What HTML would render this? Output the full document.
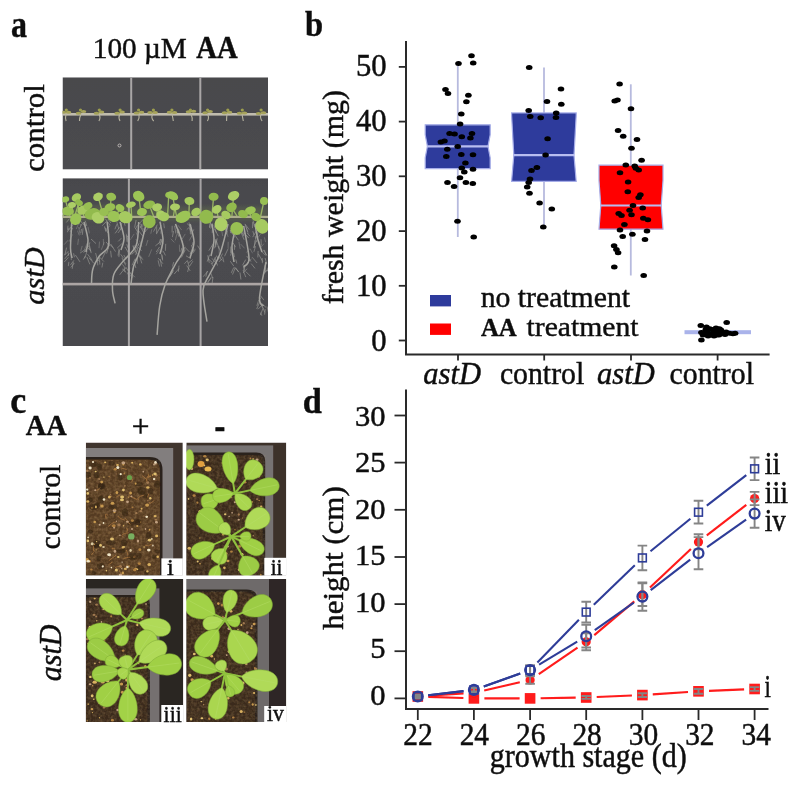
<!DOCTYPE html>
<html><head><meta charset="utf-8"><title>figure</title>
<style>html,body{margin:0;padding:0;background:#fff;width:800px;height:785px;overflow:hidden}svg{display:block}</style>
</head><body>
<svg width="800" height="785" viewBox="0 0 800 785" font-family="'Liberation Serif', serif" fill="#111">
<defs><filter id="soft" filterUnits="userSpaceOnUse" x="0" y="0" width="800" height="785"><feGaussianBlur stdDeviation="0.35"/></filter></defs>
<style>text{stroke:#111;stroke-width:0.45px;}</style>
<rect width="800" height="785" fill="#fff"/>
<g filter="url(#soft)">
<defs><filter id="bl1" x="-10%" y="-10%" width="120%" height="120%"><feGaussianBlur stdDeviation="0.6"/></filter><filter id="bl2" x="-10%" y="-10%" width="120%" height="120%"><feGaussianBlur stdDeviation="0.7"/></filter><filter id="bl4" x="-20%" y="-50%" width="140%" height="200%"><feGaussianBlur stdDeviation="2.5"/></filter><linearGradient id="gpa2" x1="0" y1="0" x2="0" y2="1"><stop offset="0" stop-color="#47474c"/><stop offset="0.3" stop-color="#4d4d51"/><stop offset="0.5" stop-color="#4b4b4f"/><stop offset="1" stop-color="#49494d"/></linearGradient><linearGradient id="gpa1" x1="0" y1="0" x2="0" y2="1"><stop offset="0" stop-color="#48484c"/><stop offset="1" stop-color="#4c4c4f"/></linearGradient><clipPath id="cpa1"><rect x="62.5" y="77.3" width="205.5" height="92.3"/></clipPath><clipPath id="cpa2"><rect x="62.5" y="178.2" width="205.5" height="167.8"/></clipPath></defs>
<g clip-path="url(#cpa1)">
<rect x="62.5" y="77.3" width="205.5" height="92.3" fill="url(#gpa1)"/>
<g filter="url(#bl1)">
<rect x="130.2" y="77.3" width="2" height="92.3" fill="#a9a6a6"/>
<rect x="199.3" y="77.3" width="2" height="92.3" fill="#a9a6a6"/>
<rect x="62.5" y="113" width="205.5" height="2.6" fill="#c0bcae"/>
<path d="M66 114 q-1.0 4 0.1 7" stroke="#b8b4a0" stroke-width="1.1" fill="none"/>
<ellipse cx="63.5" cy="112.2" rx="2.8" ry="1.5" fill="#a4a25a"/>
<ellipse cx="68.5" cy="112.2" rx="2.8" ry="1.5" fill="#a8a45c"/>
<ellipse cx="66.3" cy="110" rx="1.6" ry="1.6" fill="#9c9e4e"/>
<path d="M81 114 q-1.7 4 -1.5 7" stroke="#b8b4a0" stroke-width="1.1" fill="none"/>
<ellipse cx="78.5" cy="113.2" rx="2.8" ry="1.5" fill="#a4a25a"/>
<ellipse cx="83.5" cy="111.5" rx="2.8" ry="1.5" fill="#a8a45c"/>
<ellipse cx="80.5" cy="110" rx="1.6" ry="1.6" fill="#9c9e4e"/>
<path d="M99 114 q2.0 4 -0.1 7" stroke="#b8b4a0" stroke-width="1.1" fill="none"/>
<ellipse cx="96.5" cy="113.2" rx="2.8" ry="1.5" fill="#a4a25a"/>
<ellipse cx="101.5" cy="112.0" rx="2.8" ry="1.5" fill="#a8a45c"/>
<ellipse cx="99.3" cy="110" rx="1.6" ry="1.6" fill="#9c9e4e"/>
<path d="M119.6 114 q-1.4 4 0.4 7" stroke="#b8b4a0" stroke-width="1.1" fill="none"/>
<ellipse cx="117.1" cy="113.2" rx="2.8" ry="1.5" fill="#a4a25a"/>
<ellipse cx="122.1" cy="112.0" rx="2.8" ry="1.5" fill="#a8a45c"/>
<ellipse cx="120.1" cy="110" rx="1.6" ry="1.6" fill="#9c9e4e"/>
<path d="M139 114 q0.7 4 -1.3 7" stroke="#b8b4a0" stroke-width="1.1" fill="none"/>
<ellipse cx="136.5" cy="113.0" rx="2.8" ry="1.5" fill="#a4a25a"/>
<ellipse cx="141.5" cy="112.2" rx="2.8" ry="1.5" fill="#a8a45c"/>
<ellipse cx="138.6" cy="110" rx="1.6" ry="1.6" fill="#9c9e4e"/>
<path d="M152.6 114 q-1.9 4 1.1 7" stroke="#b8b4a0" stroke-width="1.1" fill="none"/>
<ellipse cx="150.1" cy="112.4" rx="2.8" ry="1.5" fill="#a4a25a"/>
<ellipse cx="155.1" cy="112.4" rx="2.8" ry="1.5" fill="#a8a45c"/>
<ellipse cx="153.4" cy="110" rx="1.6" ry="1.6" fill="#9c9e4e"/>
<path d="M172 114 q0.9 4 1.3 7" stroke="#b8b4a0" stroke-width="1.1" fill="none"/>
<ellipse cx="169.5" cy="112.3" rx="2.8" ry="1.5" fill="#a4a25a"/>
<ellipse cx="174.5" cy="112.6" rx="2.8" ry="1.5" fill="#a8a45c"/>
<ellipse cx="171.9" cy="110" rx="1.6" ry="1.6" fill="#9c9e4e"/>
<path d="M191 114 q1.7 4 1.1 7" stroke="#b8b4a0" stroke-width="1.1" fill="none"/>
<ellipse cx="188.5" cy="111.7" rx="2.8" ry="1.5" fill="#a4a25a"/>
<ellipse cx="193.5" cy="111.3" rx="2.8" ry="1.5" fill="#a8a45c"/>
<ellipse cx="190.4" cy="110" rx="1.6" ry="1.6" fill="#9c9e4e"/>
<path d="M207.6 114 q1.9 4 -0.2 7" stroke="#b8b4a0" stroke-width="1.1" fill="none"/>
<ellipse cx="205.1" cy="112.8" rx="2.8" ry="1.5" fill="#a4a25a"/>
<ellipse cx="210.1" cy="111.6" rx="2.8" ry="1.5" fill="#a8a45c"/>
<ellipse cx="207.6" cy="110" rx="1.6" ry="1.6" fill="#9c9e4e"/>
<path d="M227 114 q-0.5 4 -0.4 7" stroke="#b8b4a0" stroke-width="1.1" fill="none"/>
<ellipse cx="224.5" cy="112.7" rx="2.8" ry="1.5" fill="#a4a25a"/>
<ellipse cx="229.5" cy="112.2" rx="2.8" ry="1.5" fill="#a8a45c"/>
<ellipse cx="227.8" cy="110" rx="1.6" ry="1.6" fill="#9c9e4e"/>
<path d="M242 114 q0.7 4 1.3 7" stroke="#b8b4a0" stroke-width="1.1" fill="none"/>
<ellipse cx="239.5" cy="113.2" rx="2.8" ry="1.5" fill="#a4a25a"/>
<ellipse cx="244.5" cy="113.0" rx="2.8" ry="1.5" fill="#a8a45c"/>
<ellipse cx="242.3" cy="110" rx="1.6" ry="1.6" fill="#9c9e4e"/>
<path d="M261 114 q-1.3 4 1.1 7" stroke="#b8b4a0" stroke-width="1.1" fill="none"/>
<ellipse cx="258.5" cy="113.4" rx="2.8" ry="1.5" fill="#a4a25a"/>
<ellipse cx="263.5" cy="112.8" rx="2.8" ry="1.5" fill="#a8a45c"/>
<ellipse cx="261.1" cy="110" rx="1.6" ry="1.6" fill="#9c9e4e"/>
<circle cx="119.5" cy="145.5" r="1.5" fill="none" stroke="#cfcac6" stroke-width="0.8"/>
</g></g>
<g clip-path="url(#cpa2)">
<rect x="62.5" y="178.2" width="205.5" height="167.8" fill="url(#gpa2)"/>
<g filter="url(#bl1)">
<rect x="127.9" y="178.2" width="2" height="167.8" fill="#a6a3a4"/>
<rect x="199.6" y="178.2" width="2" height="167.8" fill="#a6a3a4"/>
<rect x="62.5" y="282.8" width="205.5" height="2.6" fill="#aca5a4"/>
<path d="M107.2 222 C107.4 225.9 109.9 239.9 108.6 245.6 C107.3 251.3 102.0 252.1 99.4 256 C96.8 259.9 94.1 264.7 92.8 269.2 C91.5 273.7 91.7 280.7 91.5 283" stroke="#aaa9a3" stroke-width="1.5" fill="none" opacity="0.95"/>
<path d="M104.5 226.3 l1.3 5.4" stroke="#a4a39e" stroke-width="0.8" fill="none" opacity="0.7"/>
<path d="M104.9 227.5 l3.1 5.6" stroke="#a4a39e" stroke-width="0.8" fill="none" opacity="0.7"/>
<path d="M107.2 220.8 l-5.0 4.9" stroke="#a4a39e" stroke-width="0.8" fill="none" opacity="0.7"/>
<path d="M107.9 218.8 l2.9 4.2" stroke="#a4a39e" stroke-width="0.8" fill="none" opacity="0.7"/>
<path d="M105.1 218.5 l5.0 6.7" stroke="#a4a39e" stroke-width="0.8" fill="none" opacity="0.7"/>
<path d="M110.2 225.4 l-4.7 4.6" stroke="#a4a39e" stroke-width="0.8" fill="none" opacity="0.7"/>
<path d="M108.6 243.0 l4.5 4.8" stroke="#a4a39e" stroke-width="0.8" fill="none" opacity="0.7"/>
<path d="M105.8 251.4 l-3.8 7.6" stroke="#a4a39e" stroke-width="0.8" fill="none" opacity="0.7"/>
<path d="M108.2 248.2 l-1.6 5.4" stroke="#a4a39e" stroke-width="0.8" fill="none" opacity="0.7"/>
<path d="M106.1 242.0 l3.7 4.2" stroke="#a4a39e" stroke-width="0.8" fill="none" opacity="0.7"/>
<path d="M110.8 244.1 l4.7 7.5" stroke="#a4a39e" stroke-width="0.8" fill="none" opacity="0.7"/>
<path d="M110.6 250.8 l0.8 6.6" stroke="#a4a39e" stroke-width="0.8" fill="none" opacity="0.7"/>
<path d="M96.4 257.7 l3.3 4.0" stroke="#a4a39e" stroke-width="0.8" fill="none" opacity="0.7"/>
<path d="M102.8 262.7 l-0.9 4.8" stroke="#a4a39e" stroke-width="0.8" fill="none" opacity="0.7"/>
<path d="M99.0 256.6 l4.9 4.9" stroke="#a4a39e" stroke-width="0.8" fill="none" opacity="0.7"/>
<path d="M95.6 253.1 l2.2 8.0" stroke="#a4a39e" stroke-width="0.8" fill="none" opacity="0.7"/>
<path d="M99.4 257.9 l0.5 6.7" stroke="#a4a39e" stroke-width="0.8" fill="none" opacity="0.7"/>
<path d="M97.2 259.3 l0.6 6.1" stroke="#a4a39e" stroke-width="0.8" fill="none" opacity="0.7"/>
<path d="M138.7 222 C138.3 225.9 138.7 239.0 136.1 245.6 C133.5 252.2 126.7 256.6 123 261.4 C119.3 266.2 115.5 269.7 113.8 274.5 C112.0 279.3 112.3 285.4 112.5 290.2 C112.7 295.0 114.7 301.2 115.1 303.4" stroke="#aaa9a3" stroke-width="1.5" fill="none" opacity="0.95"/>
<path d="M136.1 220.0 l-1.5 7.6" stroke="#a4a39e" stroke-width="0.8" fill="none" opacity="0.7"/>
<path d="M137.5 225.2 l-1.9 3.5" stroke="#a4a39e" stroke-width="0.8" fill="none" opacity="0.7"/>
<path d="M135.2 227.8 l2.8 4.9" stroke="#a4a39e" stroke-width="0.8" fill="none" opacity="0.7"/>
<path d="M140.2 226.1 l4.0 7.8" stroke="#a4a39e" stroke-width="0.8" fill="none" opacity="0.7"/>
<path d="M138.0 229.9 l4.6 6.0" stroke="#a4a39e" stroke-width="0.8" fill="none" opacity="0.7"/>
<path d="M141.8 223.9 l-1.2 4.2" stroke="#a4a39e" stroke-width="0.8" fill="none" opacity="0.7"/>
<path d="M139.1 243.5 l-4.3 7.0" stroke="#a4a39e" stroke-width="0.8" fill="none" opacity="0.7"/>
<path d="M138.3 247.4 l3.4 3.3" stroke="#a4a39e" stroke-width="0.8" fill="none" opacity="0.7"/>
<path d="M134.2 245.1 l-0.8 3.9" stroke="#a4a39e" stroke-width="0.8" fill="none" opacity="0.7"/>
<path d="M132.7 245.7 l4.0 7.9" stroke="#a4a39e" stroke-width="0.8" fill="none" opacity="0.7"/>
<path d="M138.1 247.3 l-2.5 7.8" stroke="#a4a39e" stroke-width="0.8" fill="none" opacity="0.7"/>
<path d="M136.3 250.3 l-4.7 4.1" stroke="#a4a39e" stroke-width="0.8" fill="none" opacity="0.7"/>
<path d="M125.7 266.9 l3.8 6.0" stroke="#a4a39e" stroke-width="0.8" fill="none" opacity="0.7"/>
<path d="M122.4 264.4 l3.5 4.5" stroke="#a4a39e" stroke-width="0.8" fill="none" opacity="0.7"/>
<path d="M123.3 260.7 l2.7 3.1" stroke="#a4a39e" stroke-width="0.8" fill="none" opacity="0.7"/>
<path d="M124.5 268.8 l-4.8 6.0" stroke="#a4a39e" stroke-width="0.8" fill="none" opacity="0.7"/>
<path d="M124.2 267.6 l0.8 4.3" stroke="#a4a39e" stroke-width="0.8" fill="none" opacity="0.7"/>
<path d="M122.2 268.9 l4.1 3.7" stroke="#a4a39e" stroke-width="0.8" fill="none" opacity="0.7"/>
<path d="M146.6 222 C145.3 227.2 140.9 246.1 138.7 253.5 C136.5 260.9 134.8 261.4 133.5 266.6 C132.2 271.9 131.3 281.9 130.9 285" stroke="#aaa9a3" stroke-width="1.5" fill="none" opacity="0.95"/>
<path d="M143.4 219.1 l-4.7 5.2" stroke="#a4a39e" stroke-width="0.8" fill="none" opacity="0.7"/>
<path d="M143.7 228.4 l1.6 3.6" stroke="#a4a39e" stroke-width="0.8" fill="none" opacity="0.7"/>
<path d="M146.9 221.9 l-0.1 4.1" stroke="#a4a39e" stroke-width="0.8" fill="none" opacity="0.7"/>
<path d="M143.9 220.2 l-1.2 6.5" stroke="#a4a39e" stroke-width="0.8" fill="none" opacity="0.7"/>
<path d="M147.0 218.6 l2.1 7.4" stroke="#a4a39e" stroke-width="0.8" fill="none" opacity="0.7"/>
<path d="M148.8 227.5 l-4.9 5.3" stroke="#a4a39e" stroke-width="0.8" fill="none" opacity="0.7"/>
<path d="M135.2 258.7 l-3.2 6.6" stroke="#a4a39e" stroke-width="0.8" fill="none" opacity="0.7"/>
<path d="M136.7 257.9 l-1.9 3.2" stroke="#a4a39e" stroke-width="0.8" fill="none" opacity="0.7"/>
<path d="M137.8 253.2 l4.0 4.5" stroke="#a4a39e" stroke-width="0.8" fill="none" opacity="0.7"/>
<path d="M138.7 256.1 l4.5 3.5" stroke="#a4a39e" stroke-width="0.8" fill="none" opacity="0.7"/>
<path d="M139.5 255.6 l2.3 7.8" stroke="#a4a39e" stroke-width="0.8" fill="none" opacity="0.7"/>
<path d="M137.2 257.9 l0.3 5.8" stroke="#a4a39e" stroke-width="0.8" fill="none" opacity="0.7"/>
<path d="M130.0 272.4 l4.8 4.8" stroke="#a4a39e" stroke-width="0.8" fill="none" opacity="0.7"/>
<path d="M132.0 274.5 l-3.9 3.4" stroke="#a4a39e" stroke-width="0.8" fill="none" opacity="0.7"/>
<path d="M130.1 272.4 l2.6 5.2" stroke="#a4a39e" stroke-width="0.8" fill="none" opacity="0.7"/>
<path d="M134.5 262.8 l1.4 5.2" stroke="#a4a39e" stroke-width="0.8" fill="none" opacity="0.7"/>
<path d="M133.6 267.3 l-1.0 4.1" stroke="#a4a39e" stroke-width="0.8" fill="none" opacity="0.7"/>
<path d="M129.9 267.8 l-2.5 6.5" stroke="#a4a39e" stroke-width="0.8" fill="none" opacity="0.7"/>
<path d="M175.5 224 C176.8 228.0 183.4 241.5 183.4 248.2 C183.4 254.9 178.6 257.9 175.5 264 C172.4 270.1 167.6 278.0 165 285 C162.4 292.0 161.0 297.7 159.7 306 C158.4 314.3 157.5 330.1 157.1 334.9" stroke="#aaa9a3" stroke-width="1.5" fill="none" opacity="0.95"/>
<path d="M178.0 228.7 l-0.4 4.2" stroke="#a4a39e" stroke-width="0.8" fill="none" opacity="0.7"/>
<path d="M174.6 225.8 l1.3 7.8" stroke="#a4a39e" stroke-width="0.8" fill="none" opacity="0.7"/>
<path d="M172.2 225.8 l-0.1 6.6" stroke="#a4a39e" stroke-width="0.8" fill="none" opacity="0.7"/>
<path d="M178.6 229.4 l1.3 6.8" stroke="#a4a39e" stroke-width="0.8" fill="none" opacity="0.7"/>
<path d="M176.8 230.3 l2.0 6.4" stroke="#a4a39e" stroke-width="0.8" fill="none" opacity="0.7"/>
<path d="M173.5 231.0 l-1.1 6.1" stroke="#a4a39e" stroke-width="0.8" fill="none" opacity="0.7"/>
<path d="M186.0 255.8 l4.9 3.0" stroke="#a4a39e" stroke-width="0.8" fill="none" opacity="0.7"/>
<path d="M181.9 247.9 l-1.1 3.7" stroke="#a4a39e" stroke-width="0.8" fill="none" opacity="0.7"/>
<path d="M183.8 245.2 l-2.0 7.7" stroke="#a4a39e" stroke-width="0.8" fill="none" opacity="0.7"/>
<path d="M185.3 249.7 l-3.9 7.8" stroke="#a4a39e" stroke-width="0.8" fill="none" opacity="0.7"/>
<path d="M185.0 246.7 l-1.6 6.2" stroke="#a4a39e" stroke-width="0.8" fill="none" opacity="0.7"/>
<path d="M184.9 247.3 l4.5 4.6" stroke="#a4a39e" stroke-width="0.8" fill="none" opacity="0.7"/>
<path d="M173.5 270.1 l-3.5 6.4" stroke="#a4a39e" stroke-width="0.8" fill="none" opacity="0.7"/>
<path d="M173.1 267.2 l-2.2 4.9" stroke="#a4a39e" stroke-width="0.8" fill="none" opacity="0.7"/>
<path d="M179.0 265.6 l-0.6 6.1" stroke="#a4a39e" stroke-width="0.8" fill="none" opacity="0.7"/>
<path d="M173.7 262.1 l-1.2 4.4" stroke="#a4a39e" stroke-width="0.8" fill="none" opacity="0.7"/>
<path d="M173.0 271.5 l-4.7 7.1" stroke="#a4a39e" stroke-width="0.8" fill="none" opacity="0.7"/>
<path d="M179.0 268.5 l-4.8 5.5" stroke="#a4a39e" stroke-width="0.8" fill="none" opacity="0.7"/>
<path d="M228 224 C226.7 228.9 223.2 245.1 220.1 253.5 C217.0 261.9 212.4 268.4 209.6 274.5 C206.8 280.6 203.4 282.3 203 290.2 C202.6 298.1 206.3 316.4 207 321.7" stroke="#aaa9a3" stroke-width="1.5" fill="none" opacity="0.95"/>
<path d="M224.3 227.3 l2.0 4.2" stroke="#a4a39e" stroke-width="0.8" fill="none" opacity="0.7"/>
<path d="M224.1 226.5 l-4.1 4.5" stroke="#a4a39e" stroke-width="0.8" fill="none" opacity="0.7"/>
<path d="M227.6 230.7 l-1.3 3.7" stroke="#a4a39e" stroke-width="0.8" fill="none" opacity="0.7"/>
<path d="M230.3 229.9 l0.3 3.2" stroke="#a4a39e" stroke-width="0.8" fill="none" opacity="0.7"/>
<path d="M225.5 224.8 l0.5 4.1" stroke="#a4a39e" stroke-width="0.8" fill="none" opacity="0.7"/>
<path d="M230.4 230.1 l4.3 7.4" stroke="#a4a39e" stroke-width="0.8" fill="none" opacity="0.7"/>
<path d="M216.2 256.5 l-4.2 7.5" stroke="#a4a39e" stroke-width="0.8" fill="none" opacity="0.7"/>
<path d="M222.1 258.6 l-3.1 3.3" stroke="#a4a39e" stroke-width="0.8" fill="none" opacity="0.7"/>
<path d="M222.6 256.8 l1.2 5.4" stroke="#a4a39e" stroke-width="0.8" fill="none" opacity="0.7"/>
<path d="M222.5 253.6 l-2.3 4.8" stroke="#a4a39e" stroke-width="0.8" fill="none" opacity="0.7"/>
<path d="M218.5 257.0 l3.9 3.4" stroke="#a4a39e" stroke-width="0.8" fill="none" opacity="0.7"/>
<path d="M216.6 255.6 l1.8 3.9" stroke="#a4a39e" stroke-width="0.8" fill="none" opacity="0.7"/>
<path d="M207.8 271.2 l-4.6 5.5" stroke="#a4a39e" stroke-width="0.8" fill="none" opacity="0.7"/>
<path d="M211.0 278.3 l-3.4 3.5" stroke="#a4a39e" stroke-width="0.8" fill="none" opacity="0.7"/>
<path d="M213.0 277.0 l-0.9 6.5" stroke="#a4a39e" stroke-width="0.8" fill="none" opacity="0.7"/>
<path d="M211.4 276.8 l-4.2 7.1" stroke="#a4a39e" stroke-width="0.8" fill="none" opacity="0.7"/>
<path d="M207.3 271.0 l-1.5 5.7" stroke="#a4a39e" stroke-width="0.8" fill="none" opacity="0.7"/>
<path d="M210.6 272.6 l2.1 5.5" stroke="#a4a39e" stroke-width="0.8" fill="none" opacity="0.7"/>
<path d="M243.7 226 C244.6 231.4 249.0 251.9 249 258.7 C249.0 265.5 244.6 265.3 243.7 266.6" stroke="#aaa9a3" stroke-width="1.5" fill="none" opacity="0.95"/>
<path d="M241.0 232.2 l3.1 7.5" stroke="#a4a39e" stroke-width="0.8" fill="none" opacity="0.7"/>
<path d="M245.1 224.6 l2.8 7.5" stroke="#a4a39e" stroke-width="0.8" fill="none" opacity="0.7"/>
<path d="M244.0 232.9 l4.7 5.0" stroke="#a4a39e" stroke-width="0.8" fill="none" opacity="0.7"/>
<path d="M247.2 233.2 l2.9 3.1" stroke="#a4a39e" stroke-width="0.8" fill="none" opacity="0.7"/>
<path d="M242.5 229.4 l1.1 6.8" stroke="#a4a39e" stroke-width="0.8" fill="none" opacity="0.7"/>
<path d="M244.9 223.9 l4.3 5.7" stroke="#a4a39e" stroke-width="0.8" fill="none" opacity="0.7"/>
<path d="M252.1 257.2 l5.0 5.8" stroke="#a4a39e" stroke-width="0.8" fill="none" opacity="0.7"/>
<path d="M251.2 263.6 l3.8 4.8" stroke="#a4a39e" stroke-width="0.8" fill="none" opacity="0.7"/>
<path d="M245.7 259.6 l-3.2 5.7" stroke="#a4a39e" stroke-width="0.8" fill="none" opacity="0.7"/>
<path d="M251.5 259.0 l-3.7 3.1" stroke="#a4a39e" stroke-width="0.8" fill="none" opacity="0.7"/>
<path d="M248.4 261.7 l-4.7 6.3" stroke="#a4a39e" stroke-width="0.8" fill="none" opacity="0.7"/>
<path d="M246.7 256.0 l4.3 5.6" stroke="#a4a39e" stroke-width="0.8" fill="none" opacity="0.7"/>
<path d="M246.9 268.8 l-3.8 4.2" stroke="#a4a39e" stroke-width="0.8" fill="none" opacity="0.7"/>
<path d="M243.1 270.3 l2.7 6.8" stroke="#a4a39e" stroke-width="0.8" fill="none" opacity="0.7"/>
<path d="M244.9 265.6 l-0.7 4.9" stroke="#a4a39e" stroke-width="0.8" fill="none" opacity="0.7"/>
<path d="M243.6 265.8 l0.4 5.3" stroke="#a4a39e" stroke-width="0.8" fill="none" opacity="0.7"/>
<path d="M240.0 272.5 l0.9 7.0" stroke="#a4a39e" stroke-width="0.8" fill="none" opacity="0.7"/>
<path d="M245.6 271.4 l4.9 4.9" stroke="#a4a39e" stroke-width="0.8" fill="none" opacity="0.7"/>
<path d="M266 262 C264.9 268.0 259.9 290.7 259.5 298 C259.1 305.3 262.8 304.7 263.4 306" stroke="#aaa9a3" stroke-width="1.5" fill="none" opacity="0.95"/>
<path d="M265.1 258.0 l1.6 5.9" stroke="#a4a39e" stroke-width="0.8" fill="none" opacity="0.7"/>
<path d="M266.6 270.0 l-3.0 4.1" stroke="#a4a39e" stroke-width="0.8" fill="none" opacity="0.7"/>
<path d="M267.9 267.7 l-0.2 3.3" stroke="#a4a39e" stroke-width="0.8" fill="none" opacity="0.7"/>
<path d="M265.0 267.9 l-0.0 5.3" stroke="#a4a39e" stroke-width="0.8" fill="none" opacity="0.7"/>
<path d="M265.1 265.5 l1.0 6.5" stroke="#a4a39e" stroke-width="0.8" fill="none" opacity="0.7"/>
<path d="M268.9 267.0 l-1.3 4.3" stroke="#a4a39e" stroke-width="0.8" fill="none" opacity="0.7"/>
<path d="M261.8 303.5 l4.3 4.0" stroke="#a4a39e" stroke-width="0.8" fill="none" opacity="0.7"/>
<path d="M262.3 304.7 l-4.2 4.5" stroke="#a4a39e" stroke-width="0.8" fill="none" opacity="0.7"/>
<path d="M260.6 295.8 l3.3 4.3" stroke="#a4a39e" stroke-width="0.8" fill="none" opacity="0.7"/>
<path d="M261.0 297.5 l-2.8 4.0" stroke="#a4a39e" stroke-width="0.8" fill="none" opacity="0.7"/>
<path d="M259.5 302.6 l-2.8 6.4" stroke="#a4a39e" stroke-width="0.8" fill="none" opacity="0.7"/>
<path d="M258.2 301.8 l-1.3 4.0" stroke="#a4a39e" stroke-width="0.8" fill="none" opacity="0.7"/>
<path d="M260.5 302.7 l2.0 5.1" stroke="#a4a39e" stroke-width="0.8" fill="none" opacity="0.7"/>
<path d="M260.4 312.6 l1.5 3.1" stroke="#a4a39e" stroke-width="0.8" fill="none" opacity="0.7"/>
<path d="M265.2 309.1 l-0.6 5.5" stroke="#a4a39e" stroke-width="0.8" fill="none" opacity="0.7"/>
<path d="M267.1 306.5 l1.4 6.2" stroke="#a4a39e" stroke-width="0.8" fill="none" opacity="0.7"/>
<path d="M262.3 306.2 l2.5 6.2" stroke="#a4a39e" stroke-width="0.8" fill="none" opacity="0.7"/>
<path d="M263.1 308.2 l-2.8 6.9" stroke="#a4a39e" stroke-width="0.8" fill="none" opacity="0.7"/>
<path d="M71.8 222 C71.6 226.3 70.5 242.0 70.5 248 C70.5 254.0 71.8 256.3 72 258" stroke="#aaa9a3" stroke-width="1.5" fill="none" opacity="0.95"/>
<path d="M68.0 225.7 l-0.5 4.1" stroke="#a4a39e" stroke-width="0.8" fill="none" opacity="0.7"/>
<path d="M72.5 225.0 l-4.1 5.5" stroke="#a4a39e" stroke-width="0.8" fill="none" opacity="0.7"/>
<path d="M69.1 227.6 l-1.7 4.6" stroke="#a4a39e" stroke-width="0.8" fill="none" opacity="0.7"/>
<path d="M69.5 218.6 l-3.1 3.8" stroke="#a4a39e" stroke-width="0.8" fill="none" opacity="0.7"/>
<path d="M72.8 228.2 l-2.8 3.6" stroke="#a4a39e" stroke-width="0.8" fill="none" opacity="0.7"/>
<path d="M72.1 219.4 l-0.9 6.8" stroke="#a4a39e" stroke-width="0.8" fill="none" opacity="0.7"/>
<path d="M68.1 252.4 l0.4 3.4" stroke="#a4a39e" stroke-width="0.8" fill="none" opacity="0.7"/>
<path d="M68.4 251.2 l-4.0 4.0" stroke="#a4a39e" stroke-width="0.8" fill="none" opacity="0.7"/>
<path d="M71.1 253.8 l0.2 6.3" stroke="#a4a39e" stroke-width="0.8" fill="none" opacity="0.7"/>
<path d="M66.6 247.6 l-1.8 7.6" stroke="#a4a39e" stroke-width="0.8" fill="none" opacity="0.7"/>
<path d="M69.4 253.4 l-4.7 5.5" stroke="#a4a39e" stroke-width="0.8" fill="none" opacity="0.7"/>
<path d="M73.6 253.3 l0.8 3.9" stroke="#a4a39e" stroke-width="0.8" fill="none" opacity="0.7"/>
<path d="M75.4 255.0 l4.6 6.9" stroke="#a4a39e" stroke-width="0.8" fill="none" opacity="0.7"/>
<path d="M73.8 260.4 l-3.4 4.7" stroke="#a4a39e" stroke-width="0.8" fill="none" opacity="0.7"/>
<path d="M73.3 261.9 l-1.1 7.0" stroke="#a4a39e" stroke-width="0.8" fill="none" opacity="0.7"/>
<path d="M68.4 257.4 l-4.1 4.6" stroke="#a4a39e" stroke-width="0.8" fill="none" opacity="0.7"/>
<path d="M74.3 263.0 l-3.5 4.5" stroke="#a4a39e" stroke-width="0.8" fill="none" opacity="0.7"/>
<path d="M68.9 261.9 l-0.6 4.2" stroke="#a4a39e" stroke-width="0.8" fill="none" opacity="0.7"/>
<path d="M84 222 C84.7 225.0 87.7 235.0 88 240 C88.3 245.0 86.3 250.0 86 252" stroke="#aaa9a3" stroke-width="1.5" fill="none" opacity="0.95"/>
<path d="M83.0 228.4 l-0.7 6.5" stroke="#a4a39e" stroke-width="0.8" fill="none" opacity="0.7"/>
<path d="M85.0 223.7 l0.6 4.8" stroke="#a4a39e" stroke-width="0.8" fill="none" opacity="0.7"/>
<path d="M81.6 223.9 l-2.0 4.7" stroke="#a4a39e" stroke-width="0.8" fill="none" opacity="0.7"/>
<path d="M81.5 229.0 l-0.7 4.0" stroke="#a4a39e" stroke-width="0.8" fill="none" opacity="0.7"/>
<path d="M80.3 220.6 l3.7 4.7" stroke="#a4a39e" stroke-width="0.8" fill="none" opacity="0.7"/>
<path d="M85.3 220.8 l1.5 5.3" stroke="#a4a39e" stroke-width="0.8" fill="none" opacity="0.7"/>
<path d="M89.9 242.3 l-1.2 4.4" stroke="#a4a39e" stroke-width="0.8" fill="none" opacity="0.7"/>
<path d="M88.8 246.0 l1.9 5.4" stroke="#a4a39e" stroke-width="0.8" fill="none" opacity="0.7"/>
<path d="M86.6 246.7 l3.5 3.7" stroke="#a4a39e" stroke-width="0.8" fill="none" opacity="0.7"/>
<path d="M89.4 245.3 l1.8 7.8" stroke="#a4a39e" stroke-width="0.8" fill="none" opacity="0.7"/>
<path d="M91.0 239.0 l5.0 4.6" stroke="#a4a39e" stroke-width="0.8" fill="none" opacity="0.7"/>
<path d="M87.0 247.7 l-3.3 5.0" stroke="#a4a39e" stroke-width="0.8" fill="none" opacity="0.7"/>
<path d="M87.0 251.3 l-2.3 7.0" stroke="#a4a39e" stroke-width="0.8" fill="none" opacity="0.7"/>
<path d="M86.9 256.9 l2.9 7.4" stroke="#a4a39e" stroke-width="0.8" fill="none" opacity="0.7"/>
<path d="M89.1 257.9 l4.8 5.5" stroke="#a4a39e" stroke-width="0.8" fill="none" opacity="0.7"/>
<path d="M87.6 254.2 l4.7 6.3" stroke="#a4a39e" stroke-width="0.8" fill="none" opacity="0.7"/>
<path d="M85.4 256.0 l-2.1 3.6" stroke="#a4a39e" stroke-width="0.8" fill="none" opacity="0.7"/>
<path d="M85.1 249.6 l-5.0 3.5" stroke="#a4a39e" stroke-width="0.8" fill="none" opacity="0.7"/>
<path d="M120 222 C120.7 224.7 123.8 233.3 124 238 C124.2 242.7 121.5 248.0 121 250" stroke="#aaa9a3" stroke-width="1.5" fill="none" opacity="0.95"/>
<path d="M119.6 227.2 l-4.5 6.2" stroke="#a4a39e" stroke-width="0.8" fill="none" opacity="0.7"/>
<path d="M116.9 224.1 l-2.0 5.2" stroke="#a4a39e" stroke-width="0.8" fill="none" opacity="0.7"/>
<path d="M121.7 223.0 l-1.1 6.6" stroke="#a4a39e" stroke-width="0.8" fill="none" opacity="0.7"/>
<path d="M116.9 222.2 l2.0 7.2" stroke="#a4a39e" stroke-width="0.8" fill="none" opacity="0.7"/>
<path d="M123.8 221.1 l1.3 4.6" stroke="#a4a39e" stroke-width="0.8" fill="none" opacity="0.7"/>
<path d="M121.6 228.2 l-3.6 4.7" stroke="#a4a39e" stroke-width="0.8" fill="none" opacity="0.7"/>
<path d="M127.5 238.2 l1.3 7.1" stroke="#a4a39e" stroke-width="0.8" fill="none" opacity="0.7"/>
<path d="M122.2 243.4 l-5.0 4.7" stroke="#a4a39e" stroke-width="0.8" fill="none" opacity="0.7"/>
<path d="M121.3 238.2 l-2.9 3.1" stroke="#a4a39e" stroke-width="0.8" fill="none" opacity="0.7"/>
<path d="M126.4 236.1 l0.7 5.8" stroke="#a4a39e" stroke-width="0.8" fill="none" opacity="0.7"/>
<path d="M126.8 244.2 l1.2 3.8" stroke="#a4a39e" stroke-width="0.8" fill="none" opacity="0.7"/>
<path d="M126.1 235.2 l4.3 4.5" stroke="#a4a39e" stroke-width="0.8" fill="none" opacity="0.7"/>
<path d="M119.0 248.6 l-1.0 7.0" stroke="#a4a39e" stroke-width="0.8" fill="none" opacity="0.7"/>
<path d="M123.8 255.0 l2.3 4.2" stroke="#a4a39e" stroke-width="0.8" fill="none" opacity="0.7"/>
<path d="M119.6 249.7 l-0.7 7.4" stroke="#a4a39e" stroke-width="0.8" fill="none" opacity="0.7"/>
<path d="M125.0 247.0 l4.6 7.6" stroke="#a4a39e" stroke-width="0.8" fill="none" opacity="0.7"/>
<path d="M120.7 254.3 l2.8 3.9" stroke="#a4a39e" stroke-width="0.8" fill="none" opacity="0.7"/>
<path d="M121.9 257.8 l3.8 7.6" stroke="#a4a39e" stroke-width="0.8" fill="none" opacity="0.7"/>
<path d="M160 222 C160.5 225.0 163.0 234.7 163 240 C163.0 245.3 160.5 251.7 160 254" stroke="#aaa9a3" stroke-width="1.5" fill="none" opacity="0.95"/>
<path d="M156.7 226.6 l-0.1 7.5" stroke="#a4a39e" stroke-width="0.8" fill="none" opacity="0.7"/>
<path d="M157.3 224.6 l-3.8 7.0" stroke="#a4a39e" stroke-width="0.8" fill="none" opacity="0.7"/>
<path d="M161.8 218.4 l-1.9 3.7" stroke="#a4a39e" stroke-width="0.8" fill="none" opacity="0.7"/>
<path d="M161.1 225.6 l-4.4 7.8" stroke="#a4a39e" stroke-width="0.8" fill="none" opacity="0.7"/>
<path d="M163.7 223.3 l0.7 4.8" stroke="#a4a39e" stroke-width="0.8" fill="none" opacity="0.7"/>
<path d="M160.8 222.8 l-0.6 6.7" stroke="#a4a39e" stroke-width="0.8" fill="none" opacity="0.7"/>
<path d="M160.5 239.6 l2.6 4.1" stroke="#a4a39e" stroke-width="0.8" fill="none" opacity="0.7"/>
<path d="M159.6 246.9 l-3.4 5.1" stroke="#a4a39e" stroke-width="0.8" fill="none" opacity="0.7"/>
<path d="M161.5 239.1 l-1.5 5.7" stroke="#a4a39e" stroke-width="0.8" fill="none" opacity="0.7"/>
<path d="M159.9 242.4 l-4.5 3.4" stroke="#a4a39e" stroke-width="0.8" fill="none" opacity="0.7"/>
<path d="M160.6 238.9 l-1.6 4.5" stroke="#a4a39e" stroke-width="0.8" fill="none" opacity="0.7"/>
<path d="M165.7 243.9 l-0.3 6.9" stroke="#a4a39e" stroke-width="0.8" fill="none" opacity="0.7"/>
<path d="M161.5 253.8 l1.2 6.7" stroke="#a4a39e" stroke-width="0.8" fill="none" opacity="0.7"/>
<path d="M160.3 259.0 l1.3 7.6" stroke="#a4a39e" stroke-width="0.8" fill="none" opacity="0.7"/>
<path d="M158.1 258.1 l4.8 5.6" stroke="#a4a39e" stroke-width="0.8" fill="none" opacity="0.7"/>
<path d="M163.2 251.1 l2.2 4.3" stroke="#a4a39e" stroke-width="0.8" fill="none" opacity="0.7"/>
<path d="M162.0 255.1 l0.4 4.2" stroke="#a4a39e" stroke-width="0.8" fill="none" opacity="0.7"/>
<path d="M158.1 260.4 l1.4 6.1" stroke="#a4a39e" stroke-width="0.8" fill="none" opacity="0.7"/>
<path d="M190 224 C190.7 227.0 194.0 236.3 194 242 C194.0 247.7 190.7 255.3 190 258" stroke="#aaa9a3" stroke-width="1.5" fill="none" opacity="0.95"/>
<path d="M186.9 223.5 l4.7 4.0" stroke="#a4a39e" stroke-width="0.8" fill="none" opacity="0.7"/>
<path d="M190.3 228.4 l0.1 5.8" stroke="#a4a39e" stroke-width="0.8" fill="none" opacity="0.7"/>
<path d="M193.8 229.4 l-2.6 5.2" stroke="#a4a39e" stroke-width="0.8" fill="none" opacity="0.7"/>
<path d="M189.4 228.2 l1.7 4.3" stroke="#a4a39e" stroke-width="0.8" fill="none" opacity="0.7"/>
<path d="M191.5 225.2 l-4.8 4.5" stroke="#a4a39e" stroke-width="0.8" fill="none" opacity="0.7"/>
<path d="M189.0 222.4 l1.7 8.0" stroke="#a4a39e" stroke-width="0.8" fill="none" opacity="0.7"/>
<path d="M197.5 245.6 l3.6 5.5" stroke="#a4a39e" stroke-width="0.8" fill="none" opacity="0.7"/>
<path d="M194.7 248.7 l-4.4 4.8" stroke="#a4a39e" stroke-width="0.8" fill="none" opacity="0.7"/>
<path d="M193.0 242.1 l-0.7 3.3" stroke="#a4a39e" stroke-width="0.8" fill="none" opacity="0.7"/>
<path d="M195.4 249.5 l-2.7 3.9" stroke="#a4a39e" stroke-width="0.8" fill="none" opacity="0.7"/>
<path d="M192.7 247.6 l-2.7 6.9" stroke="#a4a39e" stroke-width="0.8" fill="none" opacity="0.7"/>
<path d="M191.4 245.1 l2.2 6.4" stroke="#a4a39e" stroke-width="0.8" fill="none" opacity="0.7"/>
<path d="M186.7 265.5 l3.5 5.4" stroke="#a4a39e" stroke-width="0.8" fill="none" opacity="0.7"/>
<path d="M192.9 261.2 l-3.3 5.0" stroke="#a4a39e" stroke-width="0.8" fill="none" opacity="0.7"/>
<path d="M192.6 259.6 l-4.6 3.8" stroke="#a4a39e" stroke-width="0.8" fill="none" opacity="0.7"/>
<path d="M187.5 261.0 l1.4 5.2" stroke="#a4a39e" stroke-width="0.8" fill="none" opacity="0.7"/>
<path d="M189.2 265.6 l-1.6 6.4" stroke="#a4a39e" stroke-width="0.8" fill="none" opacity="0.7"/>
<path d="M187.6 260.2 l-3.2 3.6" stroke="#a4a39e" stroke-width="0.8" fill="none" opacity="0.7"/>
<path d="M212 224 C212.3 226.7 214.2 234.7 214 240 C213.8 245.3 211.5 253.3 211 256" stroke="#aaa9a3" stroke-width="1.5" fill="none" opacity="0.95"/>
<path d="M210.7 221.4 l-1.2 6.3" stroke="#a4a39e" stroke-width="0.8" fill="none" opacity="0.7"/>
<path d="M212.4 229.5 l-0.2 3.4" stroke="#a4a39e" stroke-width="0.8" fill="none" opacity="0.7"/>
<path d="M213.8 224.8 l2.5 7.9" stroke="#a4a39e" stroke-width="0.8" fill="none" opacity="0.7"/>
<path d="M212.2 223.0 l-1.4 5.5" stroke="#a4a39e" stroke-width="0.8" fill="none" opacity="0.7"/>
<path d="M210.6 221.2 l-1.0 6.3" stroke="#a4a39e" stroke-width="0.8" fill="none" opacity="0.7"/>
<path d="M214.5 229.1 l3.8 7.0" stroke="#a4a39e" stroke-width="0.8" fill="none" opacity="0.7"/>
<path d="M213.3 243.7 l-4.5 7.0" stroke="#a4a39e" stroke-width="0.8" fill="none" opacity="0.7"/>
<path d="M215.7 239.2 l-0.3 4.4" stroke="#a4a39e" stroke-width="0.8" fill="none" opacity="0.7"/>
<path d="M216.4 241.1 l2.8 7.6" stroke="#a4a39e" stroke-width="0.8" fill="none" opacity="0.7"/>
<path d="M216.2 240.6 l-1.6 7.7" stroke="#a4a39e" stroke-width="0.8" fill="none" opacity="0.7"/>
<path d="M217.2 238.3 l-1.4 6.9" stroke="#a4a39e" stroke-width="0.8" fill="none" opacity="0.7"/>
<path d="M216.1 239.4 l-0.5 7.8" stroke="#a4a39e" stroke-width="0.8" fill="none" opacity="0.7"/>
<path d="M207.7 255.3 l1.6 7.5" stroke="#a4a39e" stroke-width="0.8" fill="none" opacity="0.7"/>
<path d="M214.6 257.6 l2.9 7.9" stroke="#a4a39e" stroke-width="0.8" fill="none" opacity="0.7"/>
<path d="M209.6 254.7 l-2.4 6.9" stroke="#a4a39e" stroke-width="0.8" fill="none" opacity="0.7"/>
<path d="M208.1 258.6 l4.3 4.0" stroke="#a4a39e" stroke-width="0.8" fill="none" opacity="0.7"/>
<path d="M212.0 258.4 l4.7 5.6" stroke="#a4a39e" stroke-width="0.8" fill="none" opacity="0.7"/>
<path d="M210.9 262.8 l2.5 3.7" stroke="#a4a39e" stroke-width="0.8" fill="none" opacity="0.7"/>
<path d="M236 226 C235.3 229.3 232.3 240.0 232 246 C231.7 252.0 233.7 259.3 234 262" stroke="#aaa9a3" stroke-width="1.5" fill="none" opacity="0.95"/>
<path d="M238.4 226.8 l4.7 7.8" stroke="#a4a39e" stroke-width="0.8" fill="none" opacity="0.7"/>
<path d="M235.9 227.0 l-2.7 4.4" stroke="#a4a39e" stroke-width="0.8" fill="none" opacity="0.7"/>
<path d="M233.6 224.0 l2.3 3.3" stroke="#a4a39e" stroke-width="0.8" fill="none" opacity="0.7"/>
<path d="M236.8 229.2 l2.4 5.8" stroke="#a4a39e" stroke-width="0.8" fill="none" opacity="0.7"/>
<path d="M239.4 225.4 l-4.1 5.9" stroke="#a4a39e" stroke-width="0.8" fill="none" opacity="0.7"/>
<path d="M234.2 233.9 l4.2 6.4" stroke="#a4a39e" stroke-width="0.8" fill="none" opacity="0.7"/>
<path d="M234.7 244.9 l-0.2 4.9" stroke="#a4a39e" stroke-width="0.8" fill="none" opacity="0.7"/>
<path d="M230.8 246.5 l-0.2 6.3" stroke="#a4a39e" stroke-width="0.8" fill="none" opacity="0.7"/>
<path d="M228.2 248.5 l-3.7 7.8" stroke="#a4a39e" stroke-width="0.8" fill="none" opacity="0.7"/>
<path d="M232.4 249.1 l-1.8 6.5" stroke="#a4a39e" stroke-width="0.8" fill="none" opacity="0.7"/>
<path d="M233.7 252.9 l0.8 4.3" stroke="#a4a39e" stroke-width="0.8" fill="none" opacity="0.7"/>
<path d="M233.0 242.6 l2.4 4.5" stroke="#a4a39e" stroke-width="0.8" fill="none" opacity="0.7"/>
<path d="M235.8 259.6 l1.0 3.8" stroke="#a4a39e" stroke-width="0.8" fill="none" opacity="0.7"/>
<path d="M230.3 261.2 l3.5 4.9" stroke="#a4a39e" stroke-width="0.8" fill="none" opacity="0.7"/>
<path d="M234.2 267.5 l4.8 4.3" stroke="#a4a39e" stroke-width="0.8" fill="none" opacity="0.7"/>
<path d="M235.6 267.4 l2.9 4.7" stroke="#a4a39e" stroke-width="0.8" fill="none" opacity="0.7"/>
<path d="M233.8 267.4 l-2.5 5.4" stroke="#a4a39e" stroke-width="0.8" fill="none" opacity="0.7"/>
<path d="M235.1 268.2 l-2.6 6.3" stroke="#a4a39e" stroke-width="0.8" fill="none" opacity="0.7"/>
<path d="M255 224 C255.5 226.7 256.8 235.3 258 240 C259.2 244.7 261.3 250.0 262 252" stroke="#aaa9a3" stroke-width="1.5" fill="none" opacity="0.95"/>
<path d="M252.7 221.9 l-0.2 6.2" stroke="#a4a39e" stroke-width="0.8" fill="none" opacity="0.7"/>
<path d="M256.1 231.4 l-3.4 5.7" stroke="#a4a39e" stroke-width="0.8" fill="none" opacity="0.7"/>
<path d="M254.8 223.1 l4.2 3.7" stroke="#a4a39e" stroke-width="0.8" fill="none" opacity="0.7"/>
<path d="M253.1 220.5 l1.4 6.3" stroke="#a4a39e" stroke-width="0.8" fill="none" opacity="0.7"/>
<path d="M252.8 231.1 l1.3 4.0" stroke="#a4a39e" stroke-width="0.8" fill="none" opacity="0.7"/>
<path d="M258.5 230.2 l-1.9 7.3" stroke="#a4a39e" stroke-width="0.8" fill="none" opacity="0.7"/>
<path d="M255.0 240.2 l-0.8 7.8" stroke="#a4a39e" stroke-width="0.8" fill="none" opacity="0.7"/>
<path d="M256.4 240.6 l-2.9 7.1" stroke="#a4a39e" stroke-width="0.8" fill="none" opacity="0.7"/>
<path d="M255.5 246.2 l-1.6 5.7" stroke="#a4a39e" stroke-width="0.8" fill="none" opacity="0.7"/>
<path d="M261.0 239.2 l0.3 6.2" stroke="#a4a39e" stroke-width="0.8" fill="none" opacity="0.7"/>
<path d="M258.6 240.9 l1.5 4.6" stroke="#a4a39e" stroke-width="0.8" fill="none" opacity="0.7"/>
<path d="M255.2 236.1 l1.1 5.9" stroke="#a4a39e" stroke-width="0.8" fill="none" opacity="0.7"/>
<path d="M264.4 249.9 l1.7 5.3" stroke="#a4a39e" stroke-width="0.8" fill="none" opacity="0.7"/>
<path d="M262.2 258.0 l0.2 5.2" stroke="#a4a39e" stroke-width="0.8" fill="none" opacity="0.7"/>
<path d="M263.2 249.8 l3.7 5.6" stroke="#a4a39e" stroke-width="0.8" fill="none" opacity="0.7"/>
<path d="M258.3 253.8 l4.5 7.9" stroke="#a4a39e" stroke-width="0.8" fill="none" opacity="0.7"/>
<path d="M261.4 251.2 l4.4 4.4" stroke="#a4a39e" stroke-width="0.8" fill="none" opacity="0.7"/>
<path d="M258.1 251.0 l-0.3 6.4" stroke="#a4a39e" stroke-width="0.8" fill="none" opacity="0.7"/>
<path d="M77.5 230.7 l1.8 4.7" stroke="#9f9e9a" stroke-width="0.7" fill="none" opacity="0.6"/>
<path d="M99.5 241.6 l-0.5 6.5" stroke="#9f9e9a" stroke-width="0.7" fill="none" opacity="0.6"/>
<path d="M161.8 244.6 l0.1 7.9" stroke="#9f9e9a" stroke-width="0.7" fill="none" opacity="0.6"/>
<path d="M228.2 241.9 l-0.1 6.0" stroke="#9f9e9a" stroke-width="0.7" fill="none" opacity="0.6"/>
<path d="M140.1 223.2 l3.1 7.0" stroke="#9f9e9a" stroke-width="0.7" fill="none" opacity="0.6"/>
<path d="M218.9 245.9 l0.4 8.0" stroke="#9f9e9a" stroke-width="0.7" fill="none" opacity="0.6"/>
<path d="M159.6 249.4 l-3.4 4.9" stroke="#9f9e9a" stroke-width="0.7" fill="none" opacity="0.6"/>
<path d="M179.4 244.7 l0.2 7.0" stroke="#9f9e9a" stroke-width="0.7" fill="none" opacity="0.6"/>
<path d="M139.5 240.6 l2.4 6.0" stroke="#9f9e9a" stroke-width="0.7" fill="none" opacity="0.6"/>
<path d="M68.2 240.1 l-4.0 4.5" stroke="#9f9e9a" stroke-width="0.7" fill="none" opacity="0.6"/>
<path d="M87.2 243.1 l-2.7 6.6" stroke="#9f9e9a" stroke-width="0.7" fill="none" opacity="0.6"/>
<path d="M78.6 227.0 l1.6 7.6" stroke="#9f9e9a" stroke-width="0.7" fill="none" opacity="0.6"/>
<path d="M78.5 238.8 l-0.8 6.1" stroke="#9f9e9a" stroke-width="0.7" fill="none" opacity="0.6"/>
<path d="M79.6 221.5 l-3.4 7.5" stroke="#9f9e9a" stroke-width="0.7" fill="none" opacity="0.6"/>
<path d="M163.1 238.8 l-2.9 6.4" stroke="#9f9e9a" stroke-width="0.7" fill="none" opacity="0.6"/>
<path d="M246.0 226.7 l2.2 7.2" stroke="#9f9e9a" stroke-width="0.7" fill="none" opacity="0.6"/>
<path d="M264.4 237.4 l1.2 4.7" stroke="#9f9e9a" stroke-width="0.7" fill="none" opacity="0.6"/>
<path d="M221.7 230.0 l1.0 6.1" stroke="#9f9e9a" stroke-width="0.7" fill="none" opacity="0.6"/>
<path d="M263.8 243.8 l-3.2 3.9" stroke="#9f9e9a" stroke-width="0.7" fill="none" opacity="0.6"/>
<path d="M136.2 232.5 l1.7 4.3" stroke="#9f9e9a" stroke-width="0.7" fill="none" opacity="0.6"/>
<path d="M176.9 234.1 l-1.6 6.2" stroke="#9f9e9a" stroke-width="0.7" fill="none" opacity="0.6"/>
<path d="M151.7 249.4 l-3.0 7.5" stroke="#9f9e9a" stroke-width="0.7" fill="none" opacity="0.6"/>
<path d="M192.7 234.3 l-3.4 6.2" stroke="#9f9e9a" stroke-width="0.7" fill="none" opacity="0.6"/>
<path d="M226.3 231.1 l1.7 5.7" stroke="#9f9e9a" stroke-width="0.7" fill="none" opacity="0.6"/>
<path d="M82.2 245.9 l-1.5 5.4" stroke="#9f9e9a" stroke-width="0.7" fill="none" opacity="0.6"/>
<path d="M217.8 246.4 l2.8 4.8" stroke="#9f9e9a" stroke-width="0.7" fill="none" opacity="0.6"/>
<path d="M235.1 225.4 l0.4 5.2" stroke="#9f9e9a" stroke-width="0.7" fill="none" opacity="0.6"/>
<path d="M238.9 241.9 l1.3 7.1" stroke="#9f9e9a" stroke-width="0.7" fill="none" opacity="0.6"/>
<path d="M134.2 233.9 l-3.2 4.8" stroke="#9f9e9a" stroke-width="0.7" fill="none" opacity="0.6"/>
<path d="M104.3 242.2 l-3.0 7.6" stroke="#9f9e9a" stroke-width="0.7" fill="none" opacity="0.6"/>
<path d="M185.2 233.9 l-3.0 5.2" stroke="#9f9e9a" stroke-width="0.7" fill="none" opacity="0.6"/>
<path d="M177.9 225.2 l3.8 4.8" stroke="#9f9e9a" stroke-width="0.7" fill="none" opacity="0.6"/>
<path d="M151.8 229.3 l-1.0 4.4" stroke="#9f9e9a" stroke-width="0.7" fill="none" opacity="0.6"/>
<path d="M236.5 223.1 l-1.1 6.0" stroke="#9f9e9a" stroke-width="0.7" fill="none" opacity="0.6"/>
<path d="M160.9 230.4 l-0.1 3.3" stroke="#9f9e9a" stroke-width="0.7" fill="none" opacity="0.6"/>
<path d="M126.1 233.6 l2.1 5.2" stroke="#9f9e9a" stroke-width="0.7" fill="none" opacity="0.6"/>
<path d="M147.9 240.0 l-1.8 5.8" stroke="#9f9e9a" stroke-width="0.7" fill="none" opacity="0.6"/>
<path d="M103.3 238.9 l0.3 6.3" stroke="#9f9e9a" stroke-width="0.7" fill="none" opacity="0.6"/>
<path d="M240.7 244.1 l3.9 4.2" stroke="#9f9e9a" stroke-width="0.7" fill="none" opacity="0.6"/>
<path d="M256.7 233.9 l-1.1 5.3" stroke="#9f9e9a" stroke-width="0.7" fill="none" opacity="0.6"/>
<path d="M250.1 248.7 l2.4 4.5" stroke="#9f9e9a" stroke-width="0.7" fill="none" opacity="0.6"/>
<path d="M88.0 226.9 l1.4 6.5" stroke="#9f9e9a" stroke-width="0.7" fill="none" opacity="0.6"/>
<path d="M77.3 221.1 l4.0 4.7" stroke="#9f9e9a" stroke-width="0.7" fill="none" opacity="0.6"/>
<path d="M72.4 234.5 l-3.2 7.1" stroke="#9f9e9a" stroke-width="0.7" fill="none" opacity="0.6"/>
<path d="M170.9 238.8 l3.4 3.6" stroke="#9f9e9a" stroke-width="0.7" fill="none" opacity="0.6"/>
<path d="M107.5 243.8 l0.9 5.2" stroke="#9f9e9a" stroke-width="0.7" fill="none" opacity="0.6"/>
<path d="M135.9 239.0 l3.6 7.7" stroke="#9f9e9a" stroke-width="0.7" fill="none" opacity="0.6"/>
<path d="M249.3 249.4 l-2.9 3.1" stroke="#9f9e9a" stroke-width="0.7" fill="none" opacity="0.6"/>
<path d="M231.5 228.2 l0.2 5.3" stroke="#9f9e9a" stroke-width="0.7" fill="none" opacity="0.6"/>
<path d="M260.7 233.8 l-2.9 4.0" stroke="#9f9e9a" stroke-width="0.7" fill="none" opacity="0.6"/>
<rect x="62.5" y="215.8" width="205.5" height="2.2" fill="#b6b09c"/>
</g>
<g filter="url(#bl4)" opacity="0.2"><rect x="62" y="205" width="70" height="15" fill="#8aa84a"/><rect x="132" y="207" width="136" height="13" fill="#84a446"/></g>
<g filter="url(#bl2)">
<line x1="65.2" y1="199.4" x2="70.0" y2="216" stroke="#a2c068" stroke-width="1.3" opacity="0.9"/>
<line x1="76.4" y1="197.5" x2="80.2" y2="216" stroke="#a2c068" stroke-width="1.3" opacity="0.9"/>
<line x1="79" y1="202.7" x2="74.7" y2="216" stroke="#a2c068" stroke-width="1.3" opacity="0.9"/>
<line x1="98" y1="196.8" x2="103.6" y2="216" stroke="#a2c068" stroke-width="1.3" opacity="0.9"/>
<line x1="111.2" y1="196.8" x2="109.7" y2="216" stroke="#a2c068" stroke-width="1.3" opacity="0.9"/>
<line x1="138.7" y1="196.2" x2="141.4" y2="216" stroke="#a2c068" stroke-width="1.3" opacity="0.9"/>
<line x1="130.9" y1="204.7" x2="131.7" y2="216" stroke="#a2c068" stroke-width="1.3" opacity="0.9"/>
<line x1="149.2" y1="204.7" x2="153.5" y2="216" stroke="#a2c068" stroke-width="1.3" opacity="0.9"/>
<line x1="157.1" y1="207.3" x2="157.0" y2="216" stroke="#a2c068" stroke-width="1.3" opacity="0.9"/>
<line x1="67.9" y1="211.2" x2="62.3" y2="216" stroke="#a2c068" stroke-width="1.3" opacity="0.9"/>
<line x1="83" y1="210" x2="83.7" y2="216" stroke="#a2c068" stroke-width="1.3" opacity="0.9"/>
<line x1="109.9" y1="207.3" x2="114.1" y2="216" stroke="#a2c068" stroke-width="1.3" opacity="0.9"/>
<line x1="168.7" y1="195.1" x2="167.6" y2="216" stroke="#a2c068" stroke-width="1.3" opacity="0.9"/>
<line x1="172.6" y1="195.8" x2="176.5" y2="216" stroke="#a2c068" stroke-width="1.3" opacity="0.9"/>
<line x1="189.4" y1="201" x2="188.8" y2="216" stroke="#a2c068" stroke-width="1.3" opacity="0.9"/>
<line x1="213.6" y1="196.8" x2="211.9" y2="216" stroke="#a2c068" stroke-width="1.3" opacity="0.9"/>
<line x1="233.6" y1="195.8" x2="231.9" y2="216" stroke="#a2c068" stroke-width="1.3" opacity="0.9"/>
<line x1="264" y1="201" x2="260.7" y2="216" stroke="#a2c068" stroke-width="1.3" opacity="0.9"/>
<line x1="250.4" y1="210.5" x2="250.4" y2="216" stroke="#a2c068" stroke-width="1.3" opacity="0.9"/>
<line x1="231.5" y1="207.3" x2="237.0" y2="216" stroke="#a2c068" stroke-width="1.3" opacity="0.9"/>
<line x1="216.8" y1="209.4" x2="217.9" y2="216" stroke="#a2c068" stroke-width="1.3" opacity="0.9"/>
<line x1="88" y1="206" x2="91.2" y2="216" stroke="#a2c068" stroke-width="1.3" opacity="0.9"/>
<line x1="120" y1="208" x2="116.2" y2="216" stroke="#a2c068" stroke-width="1.3" opacity="0.9"/>
<line x1="175" y1="207" x2="173.4" y2="216" stroke="#a2c068" stroke-width="1.3" opacity="0.9"/>
<line x1="72" y1="205" x2="73.0" y2="216" stroke="#a2c068" stroke-width="1.3" opacity="0.9"/>
<ellipse cx="65.2" cy="199.4" rx="4" ry="3" transform="rotate(-8 65.2 199.4)" fill="#9cc456"/>
<ellipse cx="76.4" cy="197.5" rx="5" ry="4" transform="rotate(-34 76.4 197.5)" fill="#a6ca60"/>
<ellipse cx="79" cy="202.7" rx="4" ry="3" transform="rotate(26 79 202.7)" fill="#92ba4e"/>
<ellipse cx="98" cy="196.8" rx="5" ry="4" transform="rotate(-26 98 196.8)" fill="#acce66"/>
<ellipse cx="111.2" cy="196.8" rx="5" ry="4" transform="rotate(11 111.2 196.8)" fill="#98bf52"/>
<ellipse cx="138.7" cy="196.2" rx="6" ry="5" transform="rotate(34 138.7 196.2)" fill="#9cc456"/>
<ellipse cx="130.9" cy="204.7" rx="5" ry="3" transform="rotate(-15 130.9 204.7)" fill="#a6ca60"/>
<ellipse cx="149.2" cy="204.7" rx="6" ry="4" transform="rotate(-16 149.2 204.7)" fill="#92ba4e"/>
<ellipse cx="157.1" cy="207.3" rx="5" ry="4" transform="rotate(-12 157.1 207.3)" fill="#acce66"/>
<ellipse cx="67.9" cy="211.2" rx="6" ry="4.5" transform="rotate(3 67.9 211.2)" fill="#98bf52"/>
<ellipse cx="75.7" cy="219.1" rx="5.5" ry="6" transform="rotate(34 75.7 219.1)" fill="#9cc456"/>
<ellipse cx="83" cy="210" rx="6" ry="4.5" transform="rotate(-25 83 210)" fill="#a6ca60"/>
<ellipse cx="92.2" cy="213.9" rx="8" ry="5.5" transform="rotate(-18 92.2 213.9)" fill="#92ba4e"/>
<ellipse cx="98" cy="217.8" rx="6.5" ry="5.5" transform="rotate(28 98 217.8)" fill="#acce66"/>
<ellipse cx="109.9" cy="207.3" rx="5.5" ry="4" transform="rotate(-16 109.9 207.3)" fill="#98bf52"/>
<ellipse cx="113.8" cy="216.5" rx="6.5" ry="5.5" transform="rotate(12 113.8 216.5)" fill="#9cc456"/>
<ellipse cx="125.6" cy="217.2" rx="7" ry="6" transform="rotate(16 125.6 217.2)" fill="#a6ca60"/>
<ellipse cx="149.2" cy="221.7" rx="6.5" ry="6.5" transform="rotate(-35 149.2 221.7)" fill="#92ba4e"/>
<ellipse cx="161" cy="215.2" rx="4.5" ry="5" transform="rotate(-33 161 215.2)" fill="#acce66"/>
<ellipse cx="168.7" cy="195.1" rx="3.5" ry="3" transform="rotate(18 168.7 195.1)" fill="#98bf52"/>
<ellipse cx="172.6" cy="195.8" rx="6" ry="4" transform="rotate(29 172.6 195.8)" fill="#9cc456"/>
<ellipse cx="189.4" cy="201" rx="5" ry="4" transform="rotate(14 189.4 201)" fill="#a6ca60"/>
<ellipse cx="213.6" cy="196.8" rx="5" ry="4" transform="rotate(-2 213.6 196.8)" fill="#92ba4e"/>
<ellipse cx="233.6" cy="195.8" rx="6" ry="4.5" transform="rotate(-28 233.6 195.8)" fill="#acce66"/>
<ellipse cx="264" cy="201" rx="4" ry="4" transform="rotate(2 264 201)" fill="#98bf52"/>
<ellipse cx="183.1" cy="216.8" rx="8" ry="5.5" transform="rotate(-27 183.1 216.8)" fill="#9cc456"/>
<ellipse cx="164.2" cy="216.8" rx="5" ry="4.5" transform="rotate(-12 164.2 216.8)" fill="#a6ca60"/>
<ellipse cx="206.3" cy="216.8" rx="7" ry="7" transform="rotate(-33 206.3 216.8)" fill="#92ba4e"/>
<ellipse cx="221" cy="224.2" rx="6.5" ry="7" transform="rotate(1 221 224.2)" fill="#acce66"/>
<ellipse cx="236.8" cy="228.4" rx="6.5" ry="6.5" transform="rotate(-2 236.8 228.4)" fill="#98bf52"/>
<ellipse cx="250.4" cy="210.5" rx="5.5" ry="4" transform="rotate(-15 250.4 210.5)" fill="#9cc456"/>
<ellipse cx="262" cy="226.3" rx="6.5" ry="7.5" transform="rotate(-20 262 226.3)" fill="#a6ca60"/>
<ellipse cx="231.5" cy="207.3" rx="5.5" ry="4.5" transform="rotate(-30 231.5 207.3)" fill="#92ba4e"/>
<ellipse cx="216.8" cy="209.4" rx="5" ry="4" transform="rotate(-33 216.8 209.4)" fill="#acce66"/>
<ellipse cx="88" cy="206" rx="4.5" ry="3.5" transform="rotate(-26 88 206)" fill="#98bf52"/>
<ellipse cx="120" cy="208" rx="4.5" ry="3.5" transform="rotate(34 120 208)" fill="#9cc456"/>
<ellipse cx="196" cy="212" rx="5" ry="4" transform="rotate(-33 196 212)" fill="#a6ca60"/>
<ellipse cx="243" cy="214" rx="5" ry="4" transform="rotate(15 243 214)" fill="#92ba4e"/>
<ellipse cx="175" cy="207" rx="5" ry="3.5" transform="rotate(-3 175 207)" fill="#acce66"/>
<ellipse cx="104" cy="212" rx="5" ry="4" transform="rotate(6 104 212)" fill="#98bf52"/>
<ellipse cx="142" cy="212" rx="5" ry="4" transform="rotate(-14 142 212)" fill="#9cc456"/>
<ellipse cx="226" cy="215" rx="5" ry="4" transform="rotate(34 226 215)" fill="#a6ca60"/>
<ellipse cx="256" cy="217" rx="5" ry="4" transform="rotate(22 256 217)" fill="#92ba4e"/>
<ellipse cx="72" cy="205" rx="4" ry="3" transform="rotate(-7 72 205)" fill="#acce66"/>
</g>
</g>
<defs><filter id="soilf" x="0" y="0" width="100%" height="100%"><feTurbulence type="fractalNoise" baseFrequency="0.35" numOctaves="2" seed="4" result="n"/><feColorMatrix in="n" type="matrix" values="0 0 0 0 0.52  0 0 0 0 0.33  0 0 0 0 0.14  0 0 0 1.6 -0.55" result="c"/><feComposite in="c" in2="SourceGraphic" operator="in"/></filter><filter id="bl3" x="-10%" y="-10%" width="120%" height="120%"><feGaussianBlur stdDeviation="0.5"/></filter><clipPath id="cp1"><rect x="85.8" y="442.5" width="97" height="133"/></clipPath><clipPath id="cp2"><rect x="186.3" y="442.5" width="100" height="133"/></clipPath><clipPath id="cp3"><rect x="85.8" y="579" width="97.5" height="143"/></clipPath><clipPath id="cp4"><rect x="186.3" y="579" width="100" height="143"/></clipPath></defs>
<g clip-path="url(#cp1)"><g filter="url(#bl3)">
<rect x="85.8" y="442.5" width="97" height="133" fill="#40352f"/><rect x="85.8" y="448" width="87.39999999999999" height="127.5" fill="#827e7e"/><path d="M85.8 457 H149.5 Q162.5 457 162.5 470 V575.5 H85.8 Z" fill="#2a221d"/><path d="M85.8 459.5 H147.5 Q160.0 459.5 160.0 471 V575.5 H85.8 Z" fill="#553b22"/>
<rect x="85.8" y="460" width="74" height="116" fill="#000" filter="url(#soilf)" opacity="0.45"/>
<ellipse cx="87.9" cy="474.7" rx="3.2" ry="3.2" fill="#2a1c10" opacity="0.45"/>
<ellipse cx="96.8" cy="474.7" rx="2.7" ry="3.4" fill="#2a1c10" opacity="0.45"/>
<ellipse cx="97.5" cy="545.7" rx="4.0" ry="1.8" fill="#2a1c10" opacity="0.45"/>
<ellipse cx="125.0" cy="512.6" rx="3.2" ry="4.0" fill="#2a1c10" opacity="0.45"/>
<ellipse cx="93.6" cy="464.3" rx="4.8" ry="2.5" fill="#2a1c10" opacity="0.45"/>
<ellipse cx="101.1" cy="499.3" rx="3.1" ry="3.9" fill="#2a1c10" opacity="0.45"/>
<ellipse cx="101.9" cy="486.5" rx="3.8" ry="2.9" fill="#2a1c10" opacity="0.45"/>
<ellipse cx="154.7" cy="556.8" rx="3.1" ry="2.0" fill="#2a1c10" opacity="0.45"/>
<ellipse cx="146.4" cy="573.8" rx="2.1" ry="3.3" fill="#2a1c10" opacity="0.45"/>
<ellipse cx="148.7" cy="535.6" rx="2.7" ry="3.5" fill="#2a1c10" opacity="0.45"/>
<ellipse cx="138.8" cy="483.9" rx="3.9" ry="2.0" fill="#2a1c10" opacity="0.45"/>
<ellipse cx="89.9" cy="500.0" rx="3.0" ry="2.5" fill="#2a1c10" opacity="0.45"/>
<ellipse cx="132.9" cy="556.5" rx="4.9" ry="3.9" fill="#2a1c10" opacity="0.45"/>
<ellipse cx="157.5" cy="551.3" rx="2.9" ry="1.9" fill="#2a1c10" opacity="0.45"/>
<ellipse cx="131.3" cy="523.7" rx="4.0" ry="1.7" fill="#2a1c10" opacity="0.45"/>
<ellipse cx="100.7" cy="566.1" rx="3.8" ry="3.2" fill="#2a1c10" opacity="0.45"/>
<ellipse cx="93.8" cy="507.1" rx="4.7" ry="3.1" fill="#2a1c10" opacity="0.45"/>
<ellipse cx="157.4" cy="484.2" rx="3.4" ry="3.5" fill="#2a1c10" opacity="0.45"/>
<ellipse cx="118.6" cy="551.1" rx="3.7" ry="1.8" fill="#2a1c10" opacity="0.45"/>
<ellipse cx="94.0" cy="573.1" rx="2.4" ry="2.0" fill="#2a1c10" opacity="0.45"/>
<ellipse cx="110.8" cy="542.6" rx="4.6" ry="2.7" fill="#2a1c10" opacity="0.45"/>
<ellipse cx="122.4" cy="551.1" rx="2.8" ry="2.4" fill="#2a1c10" opacity="0.45"/>
<ellipse cx="130.5" cy="533.9" rx="2.1" ry="1.8" fill="#2a1c10" opacity="0.45"/>
<ellipse cx="96.8" cy="543.9" rx="4.1" ry="3.9" fill="#2a1c10" opacity="0.45"/>
<ellipse cx="141.5" cy="490.8" rx="4.3" ry="4.0" fill="#2a1c10" opacity="0.45"/>
<ellipse cx="111.8" cy="463.3" rx="3.1" ry="2.2" fill="#2a1c10" opacity="0.45"/>
<ellipse cx="99.5" cy="467.1" rx="2.4" ry="3.7" fill="#2a1c10" opacity="0.45"/>
<ellipse cx="90.5" cy="531.4" rx="2.6" ry="2.0" fill="#2a1c10" opacity="0.45"/>
<ellipse cx="145.3" cy="495.8" rx="2.6" ry="2.6" fill="#2a1c10" opacity="0.45"/>
<ellipse cx="136.3" cy="521.3" rx="4.6" ry="2.5" fill="#2a1c10" opacity="0.45"/>
<ellipse cx="124.2" cy="543.0" rx="3.4" ry="3.3" fill="#2a1c10" opacity="0.45"/>
<ellipse cx="120.1" cy="477.1" rx="2.4" ry="3.5" fill="#2a1c10" opacity="0.45"/>
<ellipse cx="139.9" cy="568.5" rx="4.1" ry="2.9" fill="#2a1c10" opacity="0.45"/>
<ellipse cx="98.8" cy="558.4" rx="2.4" ry="2.6" fill="#2a1c10" opacity="0.45"/>
<ellipse cx="97.0" cy="505.0" rx="2.9" ry="2.6" fill="#2a1c10" opacity="0.45"/>
<ellipse cx="137.5" cy="523.2" rx="2.7" ry="3.4" fill="#2a1c10" opacity="0.45"/>
<ellipse cx="139.2" cy="555.5" rx="2.1" ry="3.0" fill="#2a1c10" opacity="0.45"/>
<ellipse cx="150.6" cy="491.2" rx="2.6" ry="3.5" fill="#2a1c10" opacity="0.45"/>
<ellipse cx="112.8" cy="507.3" rx="4.5" ry="2.5" fill="#2a1c10" opacity="0.45"/>
<ellipse cx="101.1" cy="486.2" rx="3.0" ry="3.2" fill="#2a1c10" opacity="0.45"/>
<path d="M113.1 549.1 q-3.5 -2.0 2.0 -0.2" stroke="#b07a40" stroke-width="1" fill="none" opacity="0.7"/>
<path d="M122.5 567.7 q-1.8 -2.5 -7.5 -0.2" stroke="#b07a40" stroke-width="1" fill="none" opacity="0.7"/>
<path d="M108.1 515.5 q-4.0 -4.0 -1.9 3.1" stroke="#b07a40" stroke-width="1" fill="none" opacity="0.7"/>
<path d="M108.3 565.1 q0.6 -0.8 4.4 -3.2" stroke="#b07a40" stroke-width="1" fill="none" opacity="0.7"/>
<path d="M130.0 557.7 q0.3 -1.4 -6.5 0.9" stroke="#b07a40" stroke-width="1" fill="none" opacity="0.7"/>
<path d="M100.3 504.2 q0.3 3.5 2.8 0.2" stroke="#b07a40" stroke-width="1" fill="none" opacity="0.7"/>
<path d="M147.9 496.9 q-0.9 1.4 0.9 -3.3" stroke="#b07a40" stroke-width="1" fill="none" opacity="0.7"/>
<path d="M116.2 555.1 q-2.1 1.6 -7.2 5.5" stroke="#b07a40" stroke-width="1" fill="none" opacity="0.7"/>
<path d="M135.6 498.6 q3.9 2.4 -7.0 -3.0" stroke="#b07a40" stroke-width="1" fill="none" opacity="0.7"/>
<path d="M121.9 574.8 q-2.9 -3.6 -3.0 -5.5" stroke="#b07a40" stroke-width="1" fill="none" opacity="0.7"/>
<path d="M116.0 522.9 q-0.5 -2.9 -7.6 3.6" stroke="#b07a40" stroke-width="1" fill="none" opacity="0.7"/>
<path d="M118.2 516.2 q-0.2 1.5 6.4 3.9" stroke="#b07a40" stroke-width="1" fill="none" opacity="0.7"/>
<path d="M138.6 500.3 q-2.6 -3.3 5.7 -5.3" stroke="#b07a40" stroke-width="1" fill="none" opacity="0.7"/>
<path d="M127.4 564.8 q-1.4 -0.9 -1.3 5.3" stroke="#b07a40" stroke-width="1" fill="none" opacity="0.7"/>
<path d="M135.6 556.8 q-3.7 1.8 -0.8 -1.2" stroke="#b07a40" stroke-width="1" fill="none" opacity="0.7"/>
<path d="M145.0 545.1 q3.3 1.9 6.6 -0.9" stroke="#b07a40" stroke-width="1" fill="none" opacity="0.7"/>
<path d="M126.5 550.7 q-0.4 -2.9 1.4 4.5" stroke="#b07a40" stroke-width="1" fill="none" opacity="0.7"/>
<path d="M148.8 476.1 q-1.0 -2.2 -2.5 5.5" stroke="#b07a40" stroke-width="1" fill="none" opacity="0.7"/>
<path d="M116.9 497.4 q-1.8 -0.5 2.7 -1.9" stroke="#b07a40" stroke-width="1" fill="none" opacity="0.7"/>
<path d="M100.2 487.5 q-1.9 3.2 -5.3 3.0" stroke="#b07a40" stroke-width="1" fill="none" opacity="0.7"/>
<path d="M94.7 550.8 q-1.9 2.2 -1.1 -5.1" stroke="#b07a40" stroke-width="1" fill="none" opacity="0.7"/>
<path d="M93.7 552.4 q0.3 -0.1 -2.4 2.3" stroke="#b07a40" stroke-width="1" fill="none" opacity="0.7"/>
<path d="M121.2 469.0 q0.8 -1.5 5.5 0.6" stroke="#b07a40" stroke-width="1" fill="none" opacity="0.7"/>
<path d="M141.9 475.6 q1.7 0.9 5.6 4.6" stroke="#b07a40" stroke-width="1" fill="none" opacity="0.7"/>
<path d="M126.2 528.9 q2.1 -1.9 0.7 3.4" stroke="#b07a40" stroke-width="1" fill="none" opacity="0.7"/>
<path d="M129.2 523.3 q2.8 3.8 -3.9 -5.1" stroke="#b07a40" stroke-width="1" fill="none" opacity="0.7"/>
<path d="M130.6 478.8 q3.8 -0.2 0.5 3.8" stroke="#b07a40" stroke-width="1" fill="none" opacity="0.7"/>
<path d="M148.8 478.1 q-0.4 -2.6 -0.6 -4.4" stroke="#b07a40" stroke-width="1" fill="none" opacity="0.7"/>
<path d="M149.3 502.2 q-0.9 3.2 5.2 -2.0" stroke="#b07a40" stroke-width="1" fill="none" opacity="0.7"/>
<path d="M122.5 536.9 q-2.5 -2.9 5.7 -4.1" stroke="#b07a40" stroke-width="1" fill="none" opacity="0.7"/>
<ellipse cx="119.1" cy="524.8" rx="1.6" ry="1.5" fill="#a07850"/><ellipse cx="147.7" cy="482.6" rx="1.5" ry="1.4" fill="#a07850"/><ellipse cx="143.3" cy="471.7" rx="0.8" ry="0.9" fill="#c0a080"/><ellipse cx="132.0" cy="528.9" rx="1.1" ry="1.0" fill="#c0a080"/><ellipse cx="130.7" cy="479.0" rx="0.7" ry="0.6" fill="#c89a50"/><ellipse cx="89.5" cy="561.3" rx="1.5" ry="1.2" fill="#b08040"/><ellipse cx="118.3" cy="557.0" rx="1.3" ry="1.1" fill="#e0c070"/><ellipse cx="87.3" cy="470.7" rx="1.3" ry="1.3" fill="#a07850"/><ellipse cx="157.7" cy="556.8" rx="1.3" ry="1.3" fill="#d8b060"/><ellipse cx="123.4" cy="464.4" rx="1.0" ry="1.2" fill="#c89a50"/><ellipse cx="147.1" cy="505.1" rx="2.0" ry="1.6" fill="#c89a50"/><ellipse cx="102.2" cy="566.7" rx="0.7" ry="0.7" fill="#c0a080"/><ellipse cx="115.2" cy="469.3" rx="1.6" ry="1.2" fill="#b08040"/><ellipse cx="110.9" cy="496.5" rx="0.6" ry="0.6" fill="#c89a50"/><ellipse cx="96.6" cy="541.6" rx="0.7" ry="0.6" fill="#e0c070"/><ellipse cx="99.6" cy="524.8" rx="1.0" ry="1.0" fill="#c0a080"/><ellipse cx="141.6" cy="508.8" rx="1.0" ry="1.0" fill="#d8b060"/><ellipse cx="87.0" cy="559.5" rx="1.8" ry="1.6" fill="#c89a50"/><ellipse cx="102.0" cy="505.9" rx="1.7" ry="1.5" fill="#c89a50"/><ellipse cx="90.0" cy="477.7" rx="0.8" ry="1.0" fill="#a07850"/><ellipse cx="110.4" cy="494.8" rx="0.6" ry="0.7" fill="#a07850"/><ellipse cx="132.2" cy="462.8" rx="1.1" ry="1.0" fill="#d8b060"/><ellipse cx="155.1" cy="516.1" rx="1.6" ry="1.2" fill="#d8b060"/><ellipse cx="131.5" cy="496.4" rx="1.0" ry="0.8" fill="#c0a080"/><ellipse cx="100.5" cy="545.3" rx="1.4" ry="1.5" fill="#e0c070"/><ellipse cx="149.6" cy="529.8" rx="0.9" ry="1.0" fill="#c89a50"/><ellipse cx="123.4" cy="490.1" rx="1.4" ry="1.3" fill="#e0c070"/><ellipse cx="145.5" cy="529.0" rx="0.8" ry="0.9" fill="#c0a080"/><ellipse cx="156.4" cy="475.4" rx="1.3" ry="1.1" fill="#a07850"/><ellipse cx="130.6" cy="492.9" rx="1.4" ry="1.5" fill="#c89a50"/><ellipse cx="91.9" cy="507.9" rx="0.7" ry="0.8" fill="#b08040"/><ellipse cx="113.2" cy="526.2" rx="0.7" ry="0.7" fill="#e0c070"/><ellipse cx="156.6" cy="535.9" rx="1.5" ry="1.3" fill="#d8b060"/><ellipse cx="128.9" cy="566.3" rx="1.1" ry="1.1" fill="#b08040"/><ellipse cx="155.4" cy="463.4" rx="1.3" ry="1.2" fill="#c0a080"/><ellipse cx="109.1" cy="476.6" rx="0.7" ry="0.7" fill="#b08040"/><ellipse cx="139.3" cy="563.6" rx="1.6" ry="1.3" fill="#b08040"/><ellipse cx="112.0" cy="539.1" rx="2.0" ry="1.5" fill="#e0c070"/><ellipse cx="154.0" cy="464.5" rx="0.9" ry="1.1" fill="#c0a080"/><ellipse cx="114.1" cy="527.4" rx="1.0" ry="1.2" fill="#c0a080"/><ellipse cx="95.2" cy="490.3" rx="1.0" ry="1.0" fill="#c0a080"/><ellipse cx="136.3" cy="513.2" rx="1.2" ry="1.1" fill="#a07850"/><ellipse cx="140.3" cy="464.4" rx="1.3" ry="1.2" fill="#d8b060"/><ellipse cx="155.0" cy="473.9" rx="1.7" ry="1.4" fill="#e0c070"/><ellipse cx="105.2" cy="462.3" rx="1.1" ry="0.9" fill="#d8b060"/><ellipse cx="123.8" cy="546.9" rx="1.3" ry="0.9" fill="#e0c070"/><ellipse cx="150.3" cy="498.3" rx="1.2" ry="1.3" fill="#e0c070"/><ellipse cx="144.1" cy="547.0" rx="0.7" ry="0.8" fill="#d8b060"/><ellipse cx="128.4" cy="497.1" rx="0.8" ry="0.7" fill="#c89a50"/><ellipse cx="137.5" cy="569.3" rx="0.8" ry="0.9" fill="#e0c070"/><ellipse cx="120.5" cy="566.5" rx="1.5" ry="1.4" fill="#a07850"/><ellipse cx="122.1" cy="497.0" rx="2.0" ry="1.4" fill="#e0c070"/><ellipse cx="109.7" cy="555.5" rx="1.0" ry="0.9" fill="#c0a080"/><ellipse cx="137.3" cy="526.0" rx="1.2" ry="0.9" fill="#c89a50"/><ellipse cx="132.5" cy="507.2" rx="1.0" ry="0.8" fill="#b08040"/><ellipse cx="103.9" cy="477.1" rx="0.8" ry="0.6" fill="#e0c070"/><ellipse cx="94.7" cy="522.0" rx="1.3" ry="1.2" fill="#c89a50"/><ellipse cx="135.6" cy="483.7" rx="1.0" ry="1.1" fill="#c89a50"/><ellipse cx="140.6" cy="522.0" rx="0.6" ry="0.6" fill="#b08040"/><ellipse cx="125.3" cy="568.9" rx="1.5" ry="1.1" fill="#d8b060"/><ellipse cx="114.9" cy="551.3" rx="1.3" ry="1.5" fill="#c0a080"/><ellipse cx="114.5" cy="512.4" rx="1.1" ry="0.8" fill="#c89a50"/><ellipse cx="113.8" cy="525.8" rx="1.9" ry="1.5" fill="#b08040"/><ellipse cx="119.9" cy="535.3" rx="1.0" ry="0.8" fill="#c0a080"/><ellipse cx="152.6" cy="475.1" rx="0.9" ry="0.8" fill="#c89a50"/><ellipse cx="156.4" cy="522.2" rx="1.4" ry="1.4" fill="#c0a080"/><ellipse cx="147.8" cy="500.7" rx="0.7" ry="0.7" fill="#a07850"/><ellipse cx="116.9" cy="492.4" rx="1.4" ry="1.5" fill="#c89a50"/><ellipse cx="117.5" cy="465.0" rx="1.4" ry="1.1" fill="#d8b060"/><ellipse cx="120.4" cy="575.0" rx="1.7" ry="1.5" fill="#c0a080"/><ellipse cx="135.9" cy="568.8" rx="1.5" ry="1.1" fill="#c89a50"/><ellipse cx="140.8" cy="511.1" rx="1.5" ry="1.2" fill="#a07850"/><ellipse cx="132.4" cy="520.6" rx="1.6" ry="1.4" fill="#b08040"/><ellipse cx="134.7" cy="569.8" rx="1.7" ry="1.5" fill="#b08040"/><ellipse cx="147.4" cy="571.4" rx="1.3" ry="1.1" fill="#d8b060"/><ellipse cx="116.2" cy="474.0" rx="0.6" ry="0.6" fill="#a07850"/><ellipse cx="155.8" cy="519.8" rx="1.3" ry="1.0" fill="#a07850"/><ellipse cx="95.7" cy="471.6" rx="1.0" ry="0.8" fill="#e0c070"/><ellipse cx="116.4" cy="570.1" rx="1.5" ry="1.5" fill="#e0c070"/><ellipse cx="122.0" cy="499.7" rx="2.0" ry="1.5" fill="#e0c070"/><ellipse cx="124.3" cy="473.4" rx="0.8" ry="1.0" fill="#b08040"/><ellipse cx="96.2" cy="549.8" rx="0.6" ry="0.6" fill="#d8b060"/><ellipse cx="87.8" cy="493.4" rx="1.3" ry="1.3" fill="#e0c070"/><ellipse cx="94.4" cy="544.3" rx="0.8" ry="0.7" fill="#b08040"/><ellipse cx="138.0" cy="541.0" rx="1.2" ry="1.5" fill="#c0a080"/><ellipse cx="116.4" cy="521.3" rx="0.7" ry="0.8" fill="#c0a080"/><ellipse cx="124.9" cy="485.9" rx="0.9" ry="0.8" fill="#a07850"/><ellipse cx="147.8" cy="487.5" rx="1.7" ry="1.3" fill="#d8b060"/><ellipse cx="109.4" cy="496.9" rx="1.4" ry="1.5" fill="#d8b060"/><ellipse cx="150.0" cy="476.3" rx="1.0" ry="0.8" fill="#b08040"/><ellipse cx="114.5" cy="510.6" rx="1.7" ry="1.5" fill="#c0a080"/><ellipse cx="95.9" cy="506.9" rx="1.0" ry="1.3" fill="#d8b060"/><ellipse cx="127.5" cy="501.8" rx="1.4" ry="1.4" fill="#c0a080"/><ellipse cx="122.9" cy="547.4" rx="1.3" ry="1.1" fill="#d8b060"/><ellipse cx="144.0" cy="516.0" rx="0.8" ry="0.6" fill="#a07850"/><ellipse cx="123.6" cy="525.8" rx="0.7" ry="0.7" fill="#d8b060"/><ellipse cx="99.2" cy="479.0" rx="1.1" ry="0.9" fill="#a07850"/><ellipse cx="91.4" cy="569.5" rx="1.3" ry="1.1" fill="#b08040"/><ellipse cx="114.8" cy="509.6" rx="0.9" ry="1.0" fill="#b08040"/><ellipse cx="87.9" cy="540.9" rx="1.3" ry="1.4" fill="#e0c070"/><ellipse cx="112.5" cy="503.2" rx="1.8" ry="1.5" fill="#c89a50"/><ellipse cx="123.4" cy="462.8" rx="1.9" ry="1.5" fill="#c0a080"/><ellipse cx="149.2" cy="564.6" rx="1.8" ry="1.5" fill="#d8b060"/><ellipse cx="122.8" cy="573.0" rx="1.3" ry="1.4" fill="#c89a50"/><ellipse cx="139.9" cy="549.7" rx="1.5" ry="1.4" fill="#b08040"/><ellipse cx="149.5" cy="540.2" rx="1.7" ry="1.4" fill="#e0c070"/><ellipse cx="101.7" cy="482.1" rx="1.4" ry="1.4" fill="#c89a50"/><ellipse cx="87.8" cy="501.5" rx="1.5" ry="1.2" fill="#d8b060"/><ellipse cx="106.4" cy="570.6" rx="0.8" ry="0.9" fill="#e0c070"/><ellipse cx="127.4" cy="521.8" rx="1.4" ry="1.0" fill="#c0a080"/>
<ellipse cx="155.5" cy="462.3" rx="1.2" ry="1.3" fill="#e8dcc0"/><ellipse cx="88.2" cy="561.3" rx="1.7" ry="1.3" fill="#f0e6c8"/><ellipse cx="104.0" cy="499.5" rx="1.3" ry="1.3" fill="#f0e6c8"/><ellipse cx="111.4" cy="567.6" rx="0.8" ry="0.8" fill="#f0e6c8"/><ellipse cx="102.9" cy="566.4" rx="1.0" ry="1.1" fill="#f0e6c8"/><ellipse cx="146.7" cy="516.8" rx="1.4" ry="1.1" fill="#f0e6c8"/><ellipse cx="127.4" cy="567.0" rx="1.3" ry="1.2" fill="#e8dcc0"/><ellipse cx="121.8" cy="568.7" rx="0.5" ry="0.6" fill="#e8dcc0"/><ellipse cx="130.6" cy="550.5" rx="1.2" ry="1.4" fill="#d8c8a0"/><ellipse cx="122.1" cy="562.1" rx="0.6" ry="0.7" fill="#e8dcc0"/><ellipse cx="92.2" cy="543.7" rx="1.5" ry="1.5" fill="#d8c8a0"/><ellipse cx="103.5" cy="523.0" rx="0.9" ry="1.1" fill="#f0e6c8"/><ellipse cx="109.1" cy="555.0" rx="1.2" ry="0.9" fill="#f0e6c8"/><ellipse cx="148.8" cy="550.1" rx="1.8" ry="1.4" fill="#f0e6c8"/><ellipse cx="120.7" cy="474.2" rx="1.1" ry="1.1" fill="#f0e6c8"/><ellipse cx="152.9" cy="545.5" rx="0.7" ry="0.9" fill="#e8dcc0"/><ellipse cx="154.1" cy="479.1" rx="1.2" ry="1.1" fill="#f0e6c8"/><ellipse cx="90.1" cy="468.0" rx="1.6" ry="1.4" fill="#f0e6c8"/><ellipse cx="103.5" cy="547.1" rx="1.3" ry="1.0" fill="#d8c8a0"/><ellipse cx="93.0" cy="462.0" rx="1.1" ry="0.9" fill="#f0e6c8"/><ellipse cx="117.8" cy="467.4" rx="1.5" ry="1.5" fill="#f0e6c8"/><ellipse cx="109.1" cy="554.7" rx="1.9" ry="1.4" fill="#f0e6c8"/><ellipse cx="88.1" cy="537.3" rx="1.0" ry="0.9" fill="#d8c8a0"/><ellipse cx="87.2" cy="489.6" rx="1.2" ry="1.1" fill="#f0e6c8"/><ellipse cx="151.8" cy="539.0" rx="0.9" ry="0.9" fill="#d8c8a0"/>
<circle cx="129.5" cy="477.5" r="2.6" fill="#6aa04a"/><circle cx="131.3" cy="536.4" r="3.2" fill="#78b060"/>
</g></g>
<g clip-path="url(#cp2)"><g filter="url(#bl3)">
<rect x="186.3" y="442.5" width="100" height="133" fill="#3c302a"/><rect x="186.3" y="445.4" width="86.89999999999998" height="130.10000000000002" fill="#777373"/><path d="M186.3 452.5 H256.2 Q265.2 452.5 265.2 461.5 V575.5 H186.3 Z" fill="#2a221d"/><path d="M186.3 455.0 H254.2 Q262.7 455.0 262.7 462.5 V575.5 H186.3 Z" fill="#3a2a1c"/>
<rect x="186.3" y="455" width="79" height="121" fill="#000" filter="url(#soilf)" opacity="0.35"/>
<ellipse cx="223.1" cy="534.2" rx="1.1" ry="1.3" fill="#c89a50"/><ellipse cx="261.8" cy="513.4" rx="1.3" ry="1.2" fill="#a07850"/><ellipse cx="204.8" cy="456.2" rx="1.7" ry="1.2" fill="#b08040"/><ellipse cx="200.0" cy="563.8" rx="0.9" ry="0.7" fill="#c89a50"/><ellipse cx="226.0" cy="553.5" rx="1.6" ry="1.3" fill="#c89a50"/><ellipse cx="189.4" cy="463.2" rx="1.7" ry="1.5" fill="#c89a50"/><ellipse cx="261.2" cy="506.4" rx="1.2" ry="1.0" fill="#d8b060"/><ellipse cx="227.9" cy="561.0" rx="1.6" ry="1.2" fill="#c89a50"/><ellipse cx="229.1" cy="516.4" rx="0.8" ry="0.7" fill="#c0a080"/><ellipse cx="232.1" cy="512.7" rx="0.8" ry="1.0" fill="#c0a080"/><ellipse cx="194.1" cy="478.8" rx="1.3" ry="1.4" fill="#b08040"/><ellipse cx="252.1" cy="501.9" rx="0.9" ry="0.9" fill="#b08040"/><ellipse cx="214.9" cy="516.9" rx="1.6" ry="1.4" fill="#c89a50"/><ellipse cx="216.2" cy="558.2" rx="0.5" ry="0.6" fill="#c0a080"/><ellipse cx="219.6" cy="502.2" rx="1.2" ry="1.4" fill="#a07850"/><ellipse cx="204.3" cy="465.3" rx="0.9" ry="0.9" fill="#e0c070"/><ellipse cx="213.5" cy="531.8" rx="0.7" ry="0.7" fill="#d8b060"/><ellipse cx="213.1" cy="510.2" rx="1.7" ry="1.3" fill="#d8b060"/><ellipse cx="258.7" cy="475.9" rx="1.6" ry="1.5" fill="#d8b060"/><ellipse cx="244.7" cy="482.2" rx="1.7" ry="1.2" fill="#b08040"/><ellipse cx="201.3" cy="550.6" rx="1.0" ry="1.1" fill="#c89a50"/><ellipse cx="260.8" cy="574.8" rx="0.9" ry="1.1" fill="#b08040"/><ellipse cx="253.3" cy="535.6" rx="0.8" ry="0.9" fill="#a07850"/><ellipse cx="225.2" cy="514.3" rx="1.2" ry="1.0" fill="#e0c070"/><ellipse cx="254.2" cy="475.3" rx="1.2" ry="0.9" fill="#b08040"/><ellipse cx="212.4" cy="558.6" rx="1.3" ry="1.2" fill="#d8b060"/><ellipse cx="242.3" cy="518.0" rx="0.5" ry="0.6" fill="#c89a50"/><ellipse cx="197.7" cy="561.5" rx="1.0" ry="1.0" fill="#e0c070"/><ellipse cx="222.9" cy="463.0" rx="1.4" ry="1.2" fill="#b08040"/><ellipse cx="244.3" cy="505.7" rx="1.6" ry="1.2" fill="#d8b060"/><ellipse cx="230.9" cy="497.3" rx="1.2" ry="1.0" fill="#a07850"/><ellipse cx="199.9" cy="538.0" rx="0.6" ry="0.8" fill="#c89a50"/><ellipse cx="254.4" cy="564.4" rx="1.4" ry="1.1" fill="#e0c070"/><ellipse cx="246.6" cy="540.5" rx="0.8" ry="0.8" fill="#c0a080"/><ellipse cx="238.8" cy="514.5" rx="1.1" ry="1.2" fill="#a07850"/><ellipse cx="239.8" cy="502.9" rx="0.9" ry="0.8" fill="#b08040"/><ellipse cx="194.1" cy="495.6" rx="1.6" ry="1.3" fill="#b08040"/><ellipse cx="239.5" cy="546.4" rx="1.7" ry="1.3" fill="#b08040"/><ellipse cx="201.0" cy="480.9" rx="1.3" ry="1.2" fill="#c89a50"/><ellipse cx="237.4" cy="496.6" rx="0.8" ry="0.8" fill="#d8b060"/><ellipse cx="188.6" cy="498.9" rx="0.8" ry="0.9" fill="#e0c070"/><ellipse cx="209.9" cy="517.5" rx="1.0" ry="0.7" fill="#b08040"/><ellipse cx="200.0" cy="511.3" rx="1.6" ry="1.2" fill="#d8b060"/><ellipse cx="222.1" cy="549.5" rx="0.8" ry="0.6" fill="#e0c070"/><ellipse cx="227.8" cy="546.6" rx="1.2" ry="1.0" fill="#c0a080"/><ellipse cx="191.9" cy="468.7" rx="1.2" ry="1.2" fill="#c0a080"/><ellipse cx="189.3" cy="548.2" rx="1.8" ry="1.5" fill="#d8b060"/><ellipse cx="198.1" cy="482.9" rx="1.1" ry="1.1" fill="#c89a50"/><ellipse cx="219.8" cy="499.4" rx="1.2" ry="1.0" fill="#b08040"/><ellipse cx="216.8" cy="559.9" rx="1.5" ry="1.5" fill="#d8b060"/><ellipse cx="207.2" cy="459.9" rx="1.6" ry="1.3" fill="#e0c070"/><ellipse cx="218.5" cy="529.5" rx="0.9" ry="0.9" fill="#e0c070"/><ellipse cx="224.4" cy="567.8" rx="1.3" ry="1.4" fill="#d8b060"/><ellipse cx="249.8" cy="469.0" rx="1.2" ry="0.9" fill="#c0a080"/><ellipse cx="252.6" cy="553.7" rx="1.2" ry="1.0" fill="#b08040"/><ellipse cx="245.0" cy="558.2" rx="1.2" ry="0.9" fill="#c0a080"/><ellipse cx="253.1" cy="458.9" rx="0.7" ry="0.9" fill="#d8b060"/><ellipse cx="202.5" cy="479.4" rx="1.9" ry="1.4" fill="#d8b060"/><ellipse cx="245.2" cy="521.0" rx="0.8" ry="0.6" fill="#b08040"/><ellipse cx="238.7" cy="519.8" rx="1.2" ry="1.0" fill="#c0a080"/><ellipse cx="197.4" cy="502.7" rx="1.1" ry="1.1" fill="#b08040"/><ellipse cx="234.9" cy="502.2" rx="1.1" ry="1.0" fill="#c0a080"/><ellipse cx="250.5" cy="458.4" rx="0.9" ry="0.8" fill="#b08040"/><ellipse cx="239.1" cy="569.8" rx="1.4" ry="1.3" fill="#e0c070"/><ellipse cx="259.2" cy="500.6" rx="0.9" ry="0.7" fill="#b08040"/><ellipse cx="192.6" cy="468.9" rx="0.6" ry="0.7" fill="#c89a50"/><ellipse cx="257.0" cy="459.7" rx="1.5" ry="1.3" fill="#c0a080"/><ellipse cx="259.1" cy="544.9" rx="1.3" ry="1.5" fill="#d8b060"/><ellipse cx="231.4" cy="551.6" rx="1.3" ry="1.2" fill="#b08040"/><ellipse cx="219.3" cy="520.6" rx="0.9" ry="0.9" fill="#c89a50"/><ellipse cx="236.5" cy="496.1" rx="0.8" ry="0.7" fill="#c0a080"/><ellipse cx="257.1" cy="499.1" rx="1.2" ry="0.9" fill="#a07850"/><ellipse cx="198.1" cy="489.1" rx="0.7" ry="0.8" fill="#e0c070"/><ellipse cx="242.1" cy="554.3" rx="1.4" ry="1.4" fill="#e0c070"/><ellipse cx="244.6" cy="560.9" rx="1.4" ry="1.4" fill="#a07850"/><ellipse cx="235.0" cy="529.7" rx="0.7" ry="0.7" fill="#b08040"/><ellipse cx="233.3" cy="471.1" rx="1.6" ry="1.1" fill="#c0a080"/><ellipse cx="208.6" cy="496.9" rx="1.4" ry="1.6" fill="#a07850"/><ellipse cx="234.8" cy="476.6" rx="1.3" ry="1.1" fill="#a07850"/><ellipse cx="208.4" cy="495.9" rx="1.3" ry="1.0" fill="#b08040"/>
<ellipse cx="201" cy="464" rx="3.5" ry="3" fill="#e0a040"/><ellipse cx="208" cy="469" rx="3.5" ry="2.5" fill="#e8b850"/>
<g transform="translate(234.9 493.5) rotate(-99.6)"><path d="M0 -1.1 L11.0 -0.9 L11.0 0.9 L0 1.1 Z" fill="#90c23e"/><path d="M10.0 0 C13.2 -4.2 21.2 -7.6 29.9 -7.6 C37.7 -7.6 42.2 -4.2 42.2 0 C42.2 4.2 37.7 7.6 29.9 7.6 C21.2 7.6 13.2 4.2 10.0 0 Z" fill="#a2d246" stroke="#80ac38" stroke-width="0.5"/><path d="M10.0 0 L40.2 0" stroke="#b6de6a" stroke-width="0.7" opacity="0.6"/></g>
<g transform="translate(234.9 493.5) rotate(-52.5)"><path d="M0 -1.1 L18.8 -0.9 L18.8 0.9 L0 1.1 Z" fill="#90c23e"/><path d="M17.8 0 C20.0 -5.2 25.4 -9.4 31.3 -9.4 C36.6 -9.4 39.6 -5.2 39.6 0 C39.6 5.2 36.6 9.4 31.3 9.4 C25.4 9.4 20.0 5.2 17.8 0 Z" fill="#aad650" stroke="#80ac38" stroke-width="0.5"/><path d="M17.8 0 L37.6 0" stroke="#b6de6a" stroke-width="0.7" opacity="0.6"/></g>
<g transform="translate(234.9 493.5) rotate(-11.6)"><path d="M0 -1.1 L16.2 -0.9 L16.2 0.9 L0 1.1 Z" fill="#90c23e"/><path d="M15.2 0 C18.2 -4.8 25.7 -8.8 33.8 -8.8 C40.9 -8.8 45.1 -4.8 45.1 0 C45.1 4.8 40.9 8.8 33.8 8.8 C25.7 8.8 18.2 4.8 15.2 0 Z" fill="#9ccc44" stroke="#80ac38" stroke-width="0.5"/><path d="M15.2 0 L43.1 0" stroke="#b6de6a" stroke-width="0.7" opacity="0.6"/></g>
<g transform="translate(234.9 493.5) rotate(-163.9)"><path d="M0 -1.1 L19.4 -0.9 L19.4 0.9 L0 1.1 Z" fill="#90c23e"/><path d="M18.4 0 C21.6 -5.2 29.7 -9.4 38.3 -9.4 C46.1 -9.4 50.6 -5.2 50.6 0 C50.6 5.2 46.1 9.4 38.3 9.4 C29.7 9.4 21.6 5.2 18.4 0 Z" fill="#b0da58" stroke="#80ac38" stroke-width="0.5"/><path d="M18.4 0 L48.6 0" stroke="#b6de6a" stroke-width="0.7" opacity="0.6"/></g>
<g transform="translate(234.9 493.5) rotate(162.0)"><path d="M0 -1.1 L17.6 -0.9 L17.6 0.9 L0 1.1 Z" fill="#90c23e"/><path d="M16.6 0 C18.5 -4.5 23.1 -8.2 28.0 -8.2 C32.4 -8.2 35.0 -4.5 35.0 0 C35.0 4.5 32.4 8.2 28.0 8.2 C23.1 8.2 18.5 4.5 16.6 0 Z" fill="#a0d044" stroke="#80ac38" stroke-width="0.5"/><path d="M16.6 0 L33.0 0" stroke="#b6de6a" stroke-width="0.7" opacity="0.6"/></g>
<g transform="translate(234.9 493.5) rotate(171.8)"><path d="M0 -1.1 L2.8 -0.9 L2.8 0.9 L0 1.1 Z" fill="#90c23e"/><path d="M1.8 0 C3.8 -3.9 9.0 -7.0 14.6 -7.0 C19.6 -7.0 22.5 -3.9 22.5 0 C22.5 3.9 19.6 7.0 14.6 7.0 C9.0 7.0 3.8 3.9 1.8 0 Z" fill="#a2d246" stroke="#80ac38" stroke-width="0.5"/><path d="M1.8 0 L20.5 0" stroke="#b6de6a" stroke-width="0.7" opacity="0.6"/></g>
<g transform="translate(234.9 493.5) rotate(45.4)"><path d="M0 -1.1 L1.5 -0.9 L1.5 0.9 L0 1.1 Z" fill="#90c23e"/><path d="M0.5 0 C2.6 -3.9 7.8 -7.0 13.4 -7.0 C18.3 -7.0 21.2 -3.9 21.2 0 C21.2 3.9 18.3 7.0 13.4 7.0 C7.8 7.0 2.6 3.9 0.5 0 Z" fill="#aad650" stroke="#80ac38" stroke-width="0.5"/><path d="M0.5 0 L19.2 0" stroke="#b6de6a" stroke-width="0.7" opacity="0.6"/></g>
<g transform="translate(231.3 536.4) rotate(-143.4)"><path d="M0 -1.1 L9.6 -0.9 L9.6 0.9 L0 1.1 Z" fill="#90c23e"/><path d="M8.6 0 C11.8 -6.5 19.9 -11.7 28.6 -11.7 C36.3 -11.7 40.8 -6.5 40.8 0 C40.8 6.5 36.3 11.7 28.6 11.7 C19.9 11.7 11.8 6.5 8.6 0 Z" fill="#9ccc44" stroke="#80ac38" stroke-width="0.5"/><path d="M8.6 0 L38.8 0" stroke="#b6de6a" stroke-width="0.7" opacity="0.6"/></g>
<g transform="translate(231.3 536.4) rotate(-33.3)"><path d="M0 -1.1 L17.5 -0.9 L17.5 0.9 L0 1.1 Z" fill="#90c23e"/><path d="M16.5 0 C19.3 -5.8 26.2 -10.6 33.6 -10.6 C40.2 -10.6 44.1 -5.8 44.1 0 C44.1 5.8 40.2 10.6 33.6 10.6 C26.2 10.6 19.3 5.8 16.5 0 Z" fill="#b0da58" stroke="#80ac38" stroke-width="0.5"/><path d="M16.5 0 L42.1 0" stroke="#b6de6a" stroke-width="0.7" opacity="0.6"/></g>
<g transform="translate(231.3 536.4) rotate(25.6)"><path d="M0 -1.1 L9.2 -0.9 L9.2 0.9 L0 1.1 Z" fill="#90c23e"/><path d="M8.2 0 C11.0 -4.2 17.9 -7.6 25.3 -7.6 C32.0 -7.6 35.8 -4.2 35.8 0 C35.8 4.2 32.0 7.6 25.3 7.6 C17.9 7.6 11.0 4.2 8.2 0 Z" fill="#a0d044" stroke="#80ac38" stroke-width="0.5"/><path d="M8.2 0 L33.8 0" stroke="#b6de6a" stroke-width="0.7" opacity="0.6"/></g>
<g transform="translate(231.3 536.4) rotate(155.1)"><path d="M0 -1.1 L19.3 -0.9 L19.3 0.9 L0 1.1 Z" fill="#90c23e"/><path d="M18.3 0 C20.8 -4.5 27.1 -8.2 33.9 -8.2 C40.0 -8.2 43.6 -4.5 43.6 0 C43.6 4.5 40.0 8.2 33.9 8.2 C27.1 8.2 20.8 4.5 18.3 0 Z" fill="#a2d246" stroke="#80ac38" stroke-width="0.5"/><path d="M18.3 0 L41.6 0" stroke="#b6de6a" stroke-width="0.7" opacity="0.6"/></g>
<g transform="translate(231.3 536.4) rotate(120.6)"><path d="M0 -1.1 L15.3 -0.9 L15.3 0.9 L0 1.1 Z" fill="#90c23e"/><path d="M14.3 0 C15.9 -4.5 20.0 -8.2 24.3 -8.2 C28.2 -8.2 30.4 -4.5 30.4 0 C30.4 4.5 28.2 8.2 24.3 8.2 C20.0 8.2 15.9 4.5 14.3 0 Z" fill="#aad650" stroke="#80ac38" stroke-width="0.5"/><path d="M14.3 0 L28.4 0" stroke="#b6de6a" stroke-width="0.7" opacity="0.6"/></g>
<g transform="translate(231.3 536.4) rotate(60.1)"><path d="M0 -1.1 L24.0 -0.9 L24.0 0.9 L0 1.1 Z" fill="#90c23e"/><path d="M23.0 0 C25.1 -5.8 30.3 -10.6 35.9 -10.6 C40.8 -10.6 43.7 -5.8 43.7 0 C43.7 5.8 40.8 10.6 35.9 10.6 C30.3 10.6 25.1 5.8 23.0 0 Z" fill="#9ccc44" stroke="#80ac38" stroke-width="0.5"/><path d="M23.0 0 L41.7 0" stroke="#b6de6a" stroke-width="0.7" opacity="0.6"/></g>
<g transform="translate(231.3 536.4) rotate(-130.4)"><path d="M0 -1.1 L3.5 -0.9 L3.5 0.9 L0 1.1 Z" fill="#90c23e"/><path d="M2.5 0 C3.9 -3.2 7.3 -5.9 11.0 -5.9 C14.3 -5.9 16.3 -3.2 16.3 0 C16.3 3.2 14.3 5.9 11.0 5.9 C7.3 5.9 3.9 3.2 2.5 0 Z" fill="#b0da58" stroke="#80ac38" stroke-width="0.5"/><path d="M2.5 0 L14.3 0" stroke="#b6de6a" stroke-width="0.7" opacity="0.6"/></g>
<g transform="translate(231.3 536.4) rotate(0.0)"><path d="M0 -1.1 L9.3 -0.9 L9.3 0.9 L0 1.1 Z" fill="#90c23e"/><path d="M8.3 0 C9.4 -2.6 12.3 -4.7 15.4 -4.7 C18.2 -4.7 19.8 -2.6 19.8 0 C19.8 2.6 18.2 4.7 15.4 4.7 C12.3 4.7 9.4 2.6 8.3 0 Z" fill="#a0d044" stroke="#80ac38" stroke-width="0.5"/><path d="M8.3 0 L17.8 0" stroke="#b6de6a" stroke-width="0.7" opacity="0.6"/></g>
<g transform="translate(231.3 536.4) rotate(113.7)"><path d="M0 -1.1 L32.5 -0.9 L32.5 0.9 L0 1.1 Z" fill="#90c23e"/><path d="M31.5 0 C33.1 -3.2 37.2 -5.9 41.5 -5.9 C45.4 -5.9 47.6 -3.2 47.6 0 C47.6 3.2 45.4 5.9 41.5 5.9 C37.2 5.9 33.1 3.2 31.5 0 Z" fill="#a2d246" stroke="#80ac38" stroke-width="0.5"/><path d="M31.5 0 L45.6 0" stroke="#b6de6a" stroke-width="0.7" opacity="0.6"/></g>
<ellipse cx="189.4" cy="459.6" rx="4.6" ry="10.3" transform="rotate(0 189.4 459.6)" fill="#aad650" stroke="#80ac38" stroke-width="0.5"/>
</g></g>
<g clip-path="url(#cp3)"><g filter="url(#bl3)">
<rect x="85.8" y="579" width="97.5" height="143" fill="#2c2624"/><rect x="85.8" y="588.4" width="73.60000000000001" height="133.60000000000002" fill="#747070"/><path d="M85.8 595 H140.9 Q149.9 595 149.9 604 V722 H85.8 Z" fill="#2a221d"/><path d="M85.8 597.5 H138.9 Q147.4 597.5 147.4 605 V722 H85.8 Z" fill="#3a2a1c"/>
<rect x="85.8" y="597" width="64" height="125" fill="#000" filter="url(#soilf)" opacity="0.35"/>
<ellipse cx="102.8" cy="682.3" rx="1.7" ry="1.3" fill="#d8b060"/><ellipse cx="126.8" cy="679.9" rx="1.7" ry="1.5" fill="#d8b060"/><ellipse cx="94.9" cy="663.4" rx="0.8" ry="0.8" fill="#e0c070"/><ellipse cx="94.7" cy="682.2" rx="2.2" ry="1.6" fill="#d8b060"/><ellipse cx="92.2" cy="695.7" rx="1.4" ry="1.5" fill="#e0c070"/><ellipse cx="132.4" cy="714.8" rx="1.3" ry="1.4" fill="#d8b060"/><ellipse cx="116.7" cy="690.9" rx="1.2" ry="1.2" fill="#b08040"/><ellipse cx="141.2" cy="676.6" rx="1.3" ry="1.3" fill="#a07850"/><ellipse cx="135.7" cy="719.2" rx="1.5" ry="1.3" fill="#c0a080"/><ellipse cx="147.2" cy="652.2" rx="1.5" ry="1.3" fill="#b08040"/><ellipse cx="99.4" cy="662.3" rx="0.9" ry="0.9" fill="#a07850"/><ellipse cx="104.1" cy="707.4" rx="1.3" ry="1.2" fill="#a07850"/><ellipse cx="101.4" cy="621.9" rx="0.8" ry="1.0" fill="#c0a080"/><ellipse cx="125.4" cy="655.0" rx="0.6" ry="0.6" fill="#c89a50"/><ellipse cx="100.7" cy="659.3" rx="1.4" ry="1.3" fill="#b08040"/><ellipse cx="96.7" cy="648.9" rx="2.0" ry="1.5" fill="#b08040"/><ellipse cx="99.4" cy="703.0" rx="1.2" ry="1.0" fill="#d8b060"/><ellipse cx="142.0" cy="684.6" rx="0.9" ry="0.8" fill="#a07850"/><ellipse cx="89.6" cy="684.3" rx="0.7" ry="0.6" fill="#a07850"/><ellipse cx="107.8" cy="634.3" rx="0.9" ry="0.8" fill="#c89a50"/><ellipse cx="141.9" cy="618.6" rx="1.2" ry="1.0" fill="#a07850"/><ellipse cx="129.4" cy="717.4" rx="1.7" ry="1.4" fill="#a07850"/><ellipse cx="87.2" cy="720.7" rx="0.7" ry="0.7" fill="#b08040"/><ellipse cx="121.5" cy="684.0" rx="1.7" ry="1.5" fill="#c89a50"/><ellipse cx="87.3" cy="639.2" rx="1.5" ry="1.1" fill="#a07850"/><ellipse cx="137.3" cy="625.4" rx="1.0" ry="0.8" fill="#e0c070"/><ellipse cx="117.6" cy="710.0" rx="1.3" ry="1.3" fill="#c0a080"/><ellipse cx="137.3" cy="624.5" rx="1.0" ry="1.0" fill="#d8b060"/><ellipse cx="123.1" cy="650.6" rx="1.3" ry="1.2" fill="#b08040"/><ellipse cx="111.3" cy="608.7" rx="1.6" ry="1.4" fill="#c89a50"/><ellipse cx="126.9" cy="635.7" rx="1.5" ry="1.0" fill="#e0c070"/><ellipse cx="107.3" cy="633.6" rx="0.9" ry="1.0" fill="#c89a50"/><ellipse cx="93.8" cy="699.3" rx="0.8" ry="0.8" fill="#e0c070"/><ellipse cx="104.7" cy="640.8" rx="0.8" ry="0.7" fill="#a07850"/><ellipse cx="140.5" cy="719.8" rx="0.7" ry="0.6" fill="#d8b060"/><ellipse cx="146.0" cy="604.0" rx="1.0" ry="0.8" fill="#c0a080"/><ellipse cx="94.7" cy="598.6" rx="1.1" ry="0.8" fill="#d8b060"/><ellipse cx="92.5" cy="712.6" rx="0.6" ry="0.7" fill="#d8b060"/><ellipse cx="89.9" cy="627.2" rx="1.3" ry="1.4" fill="#e0c070"/><ellipse cx="98.9" cy="646.3" rx="0.7" ry="0.7" fill="#c89a50"/><ellipse cx="94.0" cy="614.9" rx="1.5" ry="1.1" fill="#a07850"/><ellipse cx="111.2" cy="616.3" rx="1.1" ry="1.1" fill="#b08040"/><ellipse cx="90.2" cy="601.7" rx="1.1" ry="1.3" fill="#c0a080"/><ellipse cx="103.5" cy="609.2" rx="1.1" ry="0.9" fill="#d8b060"/><ellipse cx="125.0" cy="700.5" rx="1.3" ry="1.3" fill="#c89a50"/><ellipse cx="93.7" cy="635.9" rx="1.7" ry="1.6" fill="#b08040"/><ellipse cx="96.2" cy="616.4" rx="1.0" ry="0.9" fill="#a07850"/><ellipse cx="102.8" cy="638.8" rx="1.5" ry="1.5" fill="#b08040"/><ellipse cx="112.4" cy="720.2" rx="1.5" ry="1.4" fill="#b08040"/><ellipse cx="96.5" cy="669.1" rx="1.7" ry="1.6" fill="#e0c070"/><ellipse cx="130.6" cy="700.3" rx="0.8" ry="0.6" fill="#e0c070"/><ellipse cx="137.1" cy="620.0" rx="0.8" ry="0.7" fill="#b08040"/><ellipse cx="91.9" cy="709.1" rx="1.4" ry="1.2" fill="#c89a50"/><ellipse cx="100.1" cy="689.7" rx="1.3" ry="1.2" fill="#a07850"/><ellipse cx="88.3" cy="704.1" rx="1.0" ry="0.7" fill="#d8b060"/><ellipse cx="126.7" cy="688.0" rx="1.3" ry="1.0" fill="#d8b060"/><ellipse cx="116.7" cy="672.8" rx="0.9" ry="0.8" fill="#c89a50"/><ellipse cx="121.9" cy="707.7" rx="1.8" ry="1.5" fill="#a07850"/><ellipse cx="90.1" cy="684.2" rx="1.4" ry="1.0" fill="#c0a080"/><ellipse cx="87.8" cy="643.4" rx="0.8" ry="0.7" fill="#b08040"/><ellipse cx="137.7" cy="681.8" rx="1.6" ry="1.3" fill="#a07850"/><ellipse cx="92.7" cy="685.7" rx="0.7" ry="0.7" fill="#c89a50"/><ellipse cx="90.4" cy="676.9" rx="1.3" ry="1.2" fill="#e0c070"/><ellipse cx="140.5" cy="644.9" rx="1.6" ry="1.4" fill="#a07850"/><ellipse cx="118.3" cy="606.3" rx="1.6" ry="1.5" fill="#b08040"/><ellipse cx="107.6" cy="680.7" rx="1.8" ry="1.5" fill="#e0c070"/><ellipse cx="122.4" cy="692.2" rx="1.5" ry="1.5" fill="#c89a50"/><ellipse cx="147.2" cy="653.1" rx="1.2" ry="1.0" fill="#c0a080"/><ellipse cx="90.7" cy="628.8" rx="0.7" ry="0.6" fill="#b08040"/><ellipse cx="138.2" cy="663.3" rx="1.2" ry="1.0" fill="#c89a50"/><ellipse cx="99.4" cy="717.8" rx="0.6" ry="0.7" fill="#d8b060"/><ellipse cx="145.3" cy="666.2" rx="1.2" ry="1.2" fill="#c89a50"/><ellipse cx="96.8" cy="620.8" rx="0.7" ry="0.7" fill="#d8b060"/><ellipse cx="127.2" cy="685.2" rx="1.7" ry="1.3" fill="#a07850"/><ellipse cx="96.5" cy="604.6" rx="1.4" ry="1.2" fill="#a07850"/>
<g transform="translate(127 620) rotate(-57.8)"><path d="M0 -1.1 L19.8 -0.9 L19.8 0.9 L0 1.1 Z" fill="#90c23e"/><path d="M18.8 0 C21.7 -4.8 28.9 -8.8 36.7 -8.8 C43.6 -8.8 47.6 -4.8 47.6 0 C47.6 4.8 43.6 8.8 36.7 8.8 C28.9 8.8 21.7 4.8 18.8 0 Z" fill="#a2d246" stroke="#80ac38" stroke-width="0.5"/><path d="M18.8 0 L45.6 0" stroke="#b6de6a" stroke-width="0.7" opacity="0.6"/></g>
<g transform="translate(127 620) rotate(-136.6)"><path d="M0 -1.1 L8.9 -0.9 L8.9 0.9 L0 1.1 Z" fill="#90c23e"/><path d="M7.9 0 C10.7 -4.5 17.6 -8.2 25.0 -8.2 C31.7 -8.2 35.5 -4.5 35.5 0 C35.5 4.5 31.7 8.2 25.0 8.2 C17.6 8.2 10.7 4.5 7.9 0 Z" fill="#aad650" stroke="#80ac38" stroke-width="0.5"/><path d="M7.9 0 L33.5 0" stroke="#b6de6a" stroke-width="0.7" opacity="0.6"/></g>
<g transform="translate(127 620) rotate(-28.9)"><path d="M0 -1.1 L5.8 -0.9 L5.8 0.9 L0 1.1 Z" fill="#90c23e"/><path d="M4.8 0 C6.1 -2.6 9.6 -4.7 13.3 -4.7 C16.6 -4.7 18.6 -2.6 18.6 0 C18.6 2.6 16.6 4.7 13.3 4.7 C9.6 4.7 6.1 2.6 4.8 0 Z" fill="#9ccc44" stroke="#80ac38" stroke-width="0.5"/><path d="M4.8 0 L16.6 0" stroke="#b6de6a" stroke-width="0.7" opacity="0.6"/></g>
<g transform="translate(127 620) rotate(13.0)"><path d="M0 -1.1 L13.4 -0.9 L13.4 0.9 L0 1.1 Z" fill="#90c23e"/><path d="M12.4 0 C15.7 -4.8 23.7 -8.8 32.4 -8.8 C40.1 -8.8 44.6 -4.8 44.6 0 C44.6 4.8 40.1 8.8 32.4 8.8 C23.7 8.8 15.7 4.8 12.4 0 Z" fill="#b0da58" stroke="#80ac38" stroke-width="0.5"/><path d="M12.4 0 L42.6 0" stroke="#b6de6a" stroke-width="0.7" opacity="0.6"/></g>
<g transform="translate(127 620) rotate(156.1)"><path d="M0 -1.1 L16.8 -0.9 L16.8 0.9 L0 1.1 Z" fill="#90c23e"/><path d="M15.8 0 C18.6 -5.2 25.5 -9.4 32.9 -9.4 C39.6 -9.4 43.4 -5.2 43.4 0 C43.4 5.2 39.6 9.4 32.9 9.4 C25.5 9.4 18.6 5.2 15.8 0 Z" fill="#a0d044" stroke="#80ac38" stroke-width="0.5"/><path d="M15.8 0 L41.4 0" stroke="#b6de6a" stroke-width="0.7" opacity="0.6"/></g>
<g transform="translate(127 620) rotate(106.5)"><path d="M0 -1.1 L7.0 -0.9 L7.0 0.9 L0 1.1 Z" fill="#90c23e"/><path d="M6.0 0 C8.1 -3.9 13.3 -7.0 18.9 -7.0 C23.8 -7.0 26.7 -3.9 26.7 0 C26.7 3.9 23.8 7.0 18.9 7.0 C13.3 7.0 8.1 3.9 6.0 0 Z" fill="#a2d246" stroke="#80ac38" stroke-width="0.5"/><path d="M6.0 0 L24.7 0" stroke="#b6de6a" stroke-width="0.7" opacity="0.6"/></g>
<g transform="translate(127.9 669.6) rotate(-57.3)"><path d="M0 -1.1 L18.4 -0.9 L18.4 0.9 L0 1.1 Z" fill="#90c23e"/><path d="M17.4 0 C20.1 -5.8 27.0 -10.6 34.5 -10.6 C41.1 -10.6 45.0 -5.8 45.0 0 C45.0 5.8 41.1 10.6 34.5 10.6 C27.0 10.6 20.1 5.8 17.4 0 Z" fill="#aad650" stroke="#80ac38" stroke-width="0.5"/><path d="M17.4 0 L43.0 0" stroke="#b6de6a" stroke-width="0.7" opacity="0.6"/></g>
<g transform="translate(127.9 669.6) rotate(-144.4)"><path d="M0 -1.1 L16.9 -0.9 L16.9 0.9 L0 1.1 Z" fill="#90c23e"/><path d="M15.9 0 C19.1 -5.2 27.2 -9.4 35.9 -9.4 C43.6 -9.4 48.1 -5.2 48.1 0 C48.1 5.2 43.6 9.4 35.9 9.4 C27.2 9.4 19.1 5.2 15.9 0 Z" fill="#9ccc44" stroke="#80ac38" stroke-width="0.5"/><path d="M15.9 0 L46.1 0" stroke="#b6de6a" stroke-width="0.7" opacity="0.6"/></g>
<g transform="translate(127.9 669.6) rotate(-34.6)"><path d="M0 -1.1 L14.4 -0.9 L14.4 0.9 L0 1.1 Z" fill="#90c23e"/><path d="M13.4 0 C16.6 -5.2 24.6 -9.4 33.3 -9.4 C41.1 -9.4 45.6 -5.2 45.6 0 C45.6 5.2 41.1 9.4 33.3 9.4 C24.6 9.4 16.6 5.2 13.4 0 Z" fill="#b0da58" stroke="#80ac38" stroke-width="0.5"/><path d="M13.4 0 L43.6 0" stroke="#b6de6a" stroke-width="0.7" opacity="0.6"/></g>
<g transform="translate(127.9 669.6) rotate(-7.3)"><path d="M0 -1.1 L20.5 -0.9 L20.5 0.9 L0 1.1 Z" fill="#90c23e"/><path d="M19.5 0 C22.9 -5.8 31.6 -10.6 40.9 -10.6 C49.2 -10.6 54.0 -5.8 54.0 0 C54.0 5.8 49.2 10.6 40.9 10.6 C31.6 10.6 22.9 5.8 19.5 0 Z" fill="#a0d044" stroke="#80ac38" stroke-width="0.5"/><path d="M19.5 0 L52.0 0" stroke="#b6de6a" stroke-width="0.7" opacity="0.6"/></g>
<g transform="translate(127.9 669.6) rotate(-153.6)"><path d="M0 -1.1 L9.6 -0.9 L9.6 0.9 L0 1.1 Z" fill="#90c23e"/><path d="M8.6 0 C10.2 -3.2 14.3 -5.9 18.6 -5.9 C22.5 -5.9 24.7 -3.2 24.7 0 C24.7 3.2 22.5 5.9 18.6 5.9 C14.3 5.9 10.2 3.2 8.6 0 Z" fill="#a2d246" stroke="#80ac38" stroke-width="0.5"/><path d="M8.6 0 L22.7 0" stroke="#b6de6a" stroke-width="0.7" opacity="0.6"/></g>
<g transform="translate(127.9 669.6) rotate(-104.0)"><path d="M0 -1.1 L1.6 -0.9 L1.6 0.9 L0 1.1 Z" fill="#90c23e"/><path d="M0.6 0 C2.0 -3.9 5.4 -7.0 9.1 -7.0 C12.5 -7.0 14.4 -3.9 14.4 0 C14.4 3.9 12.5 7.0 9.1 7.0 C5.4 7.0 2.0 3.9 0.6 0 Z" fill="#aad650" stroke="#80ac38" stroke-width="0.5"/><path d="M0.6 0 L12.4 0" stroke="#b6de6a" stroke-width="0.7" opacity="0.6"/></g>
<g transform="translate(127.9 669.6) rotate(170.6)"><path d="M0 -1.1 L9.7 -0.9 L9.7 0.9 L0 1.1 Z" fill="#90c23e"/><path d="M8.7 0 C11.5 -4.5 18.4 -8.2 25.8 -8.2 C32.5 -8.2 36.3 -4.5 36.3 0 C36.3 4.5 32.5 8.2 25.8 8.2 C18.4 8.2 11.5 4.5 8.7 0 Z" fill="#9ccc44" stroke="#80ac38" stroke-width="0.5"/><path d="M8.7 0 L34.3 0" stroke="#b6de6a" stroke-width="0.7" opacity="0.6"/></g>
<g transform="translate(127.9 669.6) rotate(54.4)"><path d="M0 -1.1 L4.2 -0.9 L4.2 0.9 L0 1.1 Z" fill="#90c23e"/><path d="M3.2 0 C5.7 -4.5 12.1 -8.2 18.9 -8.2 C25.0 -8.2 28.5 -4.5 28.5 0 C28.5 4.5 25.0 8.2 18.9 8.2 C12.1 8.2 5.7 4.5 3.2 0 Z" fill="#b0da58" stroke="#80ac38" stroke-width="0.5"/><path d="M3.2 0 L26.5 0" stroke="#b6de6a" stroke-width="0.7" opacity="0.6"/></g>
<g transform="translate(127.9 669.6) rotate(128.6)"><path d="M0 -1.1 L15.9 -0.9 L15.9 0.9 L0 1.1 Z" fill="#90c23e"/><path d="M14.9 0 C17.9 -5.8 25.4 -10.6 33.4 -10.6 C40.6 -10.6 44.8 -5.8 44.8 0 C44.8 5.8 40.6 10.6 33.4 10.6 C25.4 10.6 17.9 5.8 14.9 0 Z" fill="#a0d044" stroke="#80ac38" stroke-width="0.5"/><path d="M14.9 0 L42.8 0" stroke="#b6de6a" stroke-width="0.7" opacity="0.6"/></g>
<g transform="translate(127.9 669.6) rotate(90.0)"><path d="M0 -1.1 L19.2 -0.9 L19.2 0.9 L0 1.1 Z" fill="#90c23e"/><path d="M18.2 0 C21.6 -5.2 30.3 -9.4 39.6 -9.4 C47.9 -9.4 52.7 -5.2 52.7 0 C52.7 5.2 47.9 9.4 39.6 9.4 C30.3 9.4 21.6 5.2 18.2 0 Z" fill="#a2d246" stroke="#80ac38" stroke-width="0.5"/><path d="M18.2 0 L50.7 0" stroke="#b6de6a" stroke-width="0.7" opacity="0.6"/></g>
<g transform="translate(127.9 669.6) rotate(143.6)"><path d="M0 -1.1 L1.0 -0.9 L1.0 0.9 L0 1.1 Z" fill="#90c23e"/><path d="M0.0 0 C1.1 -3.2 3.9 -5.9 7.0 -5.9 C9.7 -5.9 11.3 -3.2 11.3 0 C11.3 3.2 9.7 5.9 7.0 5.9 C3.9 5.9 1.1 3.2 0.0 0 Z" fill="#aad650" stroke="#80ac38" stroke-width="0.5"/><path d="M0.0 0 L9.3 0" stroke="#b6de6a" stroke-width="0.7" opacity="0.6"/></g>
</g></g>
<g clip-path="url(#cp4)"><g filter="url(#bl3)">
<rect x="186.3" y="579" width="100" height="143" fill="#2e2826"/><rect x="186.3" y="579" width="82.69999999999999" height="143" fill="#6e6a6a"/><path d="M186.3 589.4 H246.5 Q257.5 589.4 257.5 600.4 V722 H186.3 Z" fill="#2a221d"/><path d="M186.3 591.9 H244.5 Q255.0 591.9 255.0 601.4 V722 H186.3 Z" fill="#3a2a1c"/>
<rect x="186.3" y="591" width="71" height="131" fill="#000" filter="url(#soilf)" opacity="0.35"/>
<ellipse cx="195.3" cy="682.6" rx="1.7" ry="1.3" fill="#b08040"/><ellipse cx="238.0" cy="629.5" rx="0.7" ry="0.7" fill="#e0c070"/><ellipse cx="234.5" cy="643.2" rx="1.2" ry="1.4" fill="#d8b060"/><ellipse cx="247.2" cy="632.7" rx="1.4" ry="1.4" fill="#c0a080"/><ellipse cx="231.0" cy="611.3" rx="1.4" ry="1.2" fill="#d8b060"/><ellipse cx="188.7" cy="601.0" rx="1.0" ry="1.2" fill="#b08040"/><ellipse cx="201.9" cy="718.2" rx="1.4" ry="1.0" fill="#e0c070"/><ellipse cx="249.0" cy="604.2" rx="1.7" ry="1.2" fill="#a07850"/><ellipse cx="228.1" cy="673.8" rx="0.7" ry="0.8" fill="#e0c070"/><ellipse cx="222.9" cy="617.0" rx="1.0" ry="1.1" fill="#b08040"/><ellipse cx="222.0" cy="605.2" rx="1.2" ry="1.4" fill="#b08040"/><ellipse cx="196.0" cy="612.9" rx="1.2" ry="1.0" fill="#a07850"/><ellipse cx="194.3" cy="654.0" rx="1.4" ry="1.3" fill="#e0c070"/><ellipse cx="209.0" cy="651.3" rx="1.3" ry="1.0" fill="#b08040"/><ellipse cx="220.3" cy="622.5" rx="2.0" ry="1.5" fill="#c89a50"/><ellipse cx="226.7" cy="655.1" rx="0.9" ry="0.9" fill="#c0a080"/><ellipse cx="215.6" cy="719.4" rx="0.8" ry="0.6" fill="#b08040"/><ellipse cx="251.9" cy="626.0" rx="0.8" ry="0.9" fill="#c0a080"/><ellipse cx="226.1" cy="694.9" rx="0.6" ry="0.7" fill="#d8b060"/><ellipse cx="209.2" cy="718.8" rx="1.1" ry="1.2" fill="#b08040"/><ellipse cx="255.3" cy="606.7" rx="2.0" ry="1.6" fill="#c89a50"/><ellipse cx="203.6" cy="704.6" rx="0.8" ry="0.9" fill="#a07850"/><ellipse cx="234.2" cy="634.8" rx="1.8" ry="1.3" fill="#c89a50"/><ellipse cx="226.2" cy="668.9" rx="1.9" ry="1.5" fill="#a07850"/><ellipse cx="231.8" cy="617.5" rx="1.0" ry="1.1" fill="#e0c070"/><ellipse cx="225.1" cy="691.8" rx="1.2" ry="0.9" fill="#a07850"/><ellipse cx="190.1" cy="675.0" rx="1.3" ry="1.0" fill="#c89a50"/><ellipse cx="205.9" cy="605.3" rx="1.0" ry="0.8" fill="#d8b060"/><ellipse cx="202.4" cy="654.8" rx="1.0" ry="0.7" fill="#c89a50"/><ellipse cx="241.4" cy="625.1" rx="1.0" ry="1.0" fill="#d8b060"/><ellipse cx="218.3" cy="603.6" rx="1.3" ry="1.4" fill="#c89a50"/><ellipse cx="233.4" cy="620.6" rx="1.5" ry="1.2" fill="#b08040"/><ellipse cx="255.6" cy="668.8" rx="1.7" ry="1.4" fill="#a07850"/><ellipse cx="215.6" cy="626.3" rx="1.5" ry="1.1" fill="#b08040"/><ellipse cx="192.2" cy="679.7" rx="1.7" ry="1.5" fill="#c89a50"/><ellipse cx="250.6" cy="600.8" rx="1.3" ry="1.4" fill="#c89a50"/><ellipse cx="244.4" cy="712.1" rx="0.9" ry="0.7" fill="#b08040"/><ellipse cx="191.1" cy="718.9" rx="1.3" ry="1.5" fill="#e0c070"/><ellipse cx="219.9" cy="703.5" rx="1.1" ry="1.3" fill="#c89a50"/><ellipse cx="254.1" cy="624.0" rx="1.5" ry="1.3" fill="#c89a50"/><ellipse cx="225.3" cy="694.7" rx="1.1" ry="1.3" fill="#b08040"/><ellipse cx="249.3" cy="702.3" rx="1.1" ry="1.0" fill="#b08040"/><ellipse cx="237.3" cy="635.0" rx="0.8" ry="0.9" fill="#a07850"/><ellipse cx="242.8" cy="683.1" rx="1.7" ry="1.6" fill="#e0c070"/><ellipse cx="189.7" cy="675.3" rx="1.6" ry="1.6" fill="#e0c070"/><ellipse cx="242.0" cy="646.5" rx="1.8" ry="1.3" fill="#e0c070"/><ellipse cx="254.1" cy="692.9" rx="1.2" ry="1.0" fill="#d8b060"/><ellipse cx="214.4" cy="659.0" rx="0.7" ry="0.7" fill="#d8b060"/><ellipse cx="201.3" cy="701.6" rx="0.9" ry="0.7" fill="#e0c070"/><ellipse cx="246.9" cy="664.0" rx="0.8" ry="0.6" fill="#c0a080"/><ellipse cx="229.1" cy="628.5" rx="1.7" ry="1.6" fill="#c0a080"/><ellipse cx="192.6" cy="601.6" rx="1.6" ry="1.3" fill="#e0c070"/><ellipse cx="235.0" cy="641.6" rx="1.3" ry="1.2" fill="#c0a080"/><ellipse cx="211.7" cy="656.2" rx="1.4" ry="1.4" fill="#d8b060"/><ellipse cx="229.5" cy="651.5" rx="1.9" ry="1.5" fill="#e0c070"/><ellipse cx="249.5" cy="660.9" rx="0.8" ry="0.8" fill="#c0a080"/><ellipse cx="208.9" cy="639.1" rx="1.1" ry="0.9" fill="#c0a080"/><ellipse cx="199.9" cy="694.9" rx="0.7" ry="0.6" fill="#c89a50"/><ellipse cx="255.8" cy="705.0" rx="1.1" ry="0.8" fill="#e0c070"/><ellipse cx="228.2" cy="698.2" rx="1.3" ry="1.4" fill="#d8b060"/><ellipse cx="246.0" cy="663.7" rx="1.2" ry="1.0" fill="#e0c070"/><ellipse cx="195.5" cy="597.2" rx="1.4" ry="1.5" fill="#b08040"/><ellipse cx="201.5" cy="694.2" rx="0.9" ry="0.7" fill="#d8b060"/><ellipse cx="251.4" cy="628.3" rx="1.1" ry="1.0" fill="#c89a50"/><ellipse cx="217.8" cy="691.4" rx="1.2" ry="1.4" fill="#a07850"/><ellipse cx="243.8" cy="623.2" rx="1.1" ry="1.2" fill="#a07850"/><ellipse cx="254.7" cy="667.9" rx="0.7" ry="0.8" fill="#b08040"/><ellipse cx="246.7" cy="672.8" rx="1.2" ry="1.4" fill="#c0a080"/><ellipse cx="252.7" cy="704.5" rx="1.1" ry="1.2" fill="#c89a50"/><ellipse cx="197.1" cy="663.6" rx="1.0" ry="0.9" fill="#c0a080"/><ellipse cx="233.3" cy="717.4" rx="1.3" ry="1.0" fill="#b08040"/><ellipse cx="245.7" cy="613.3" rx="1.3" ry="1.1" fill="#c89a50"/><ellipse cx="231.0" cy="597.1" rx="0.9" ry="1.1" fill="#c89a50"/><ellipse cx="224.4" cy="618.2" rx="1.2" ry="1.1" fill="#c0a080"/><ellipse cx="241.2" cy="711.4" rx="1.6" ry="1.5" fill="#d8b060"/>
<g transform="translate(225 620) rotate(-151.6)"><path d="M0 -1.1 L12.3 -0.9 L12.3 0.9 L0 1.1 Z" fill="#90c23e"/><path d="M11.3 0 C14.5 -7.1 22.6 -12.9 31.2 -12.9 C39.0 -12.9 43.5 -7.1 43.5 0 C43.5 7.1 39.0 12.9 31.2 12.9 C22.6 12.9 14.5 7.1 11.3 0 Z" fill="#a2d246" stroke="#80ac38" stroke-width="0.5"/><path d="M11.3 0 L41.5 0" stroke="#b6de6a" stroke-width="0.7" opacity="0.6"/></g>
<g transform="translate(225 620) rotate(-76.0)"><path d="M0 -1.1 L8.7 -0.9 L8.7 0.9 L0 1.1 Z" fill="#90c23e"/><path d="M7.7 0 C10.0 -3.9 15.8 -7.0 22.0 -7.0 C27.5 -7.0 30.7 -3.9 30.7 0 C30.7 3.9 27.5 7.0 22.0 7.0 C15.8 7.0 10.0 3.9 7.7 0 Z" fill="#aad650" stroke="#80ac38" stroke-width="0.5"/><path d="M7.7 0 L28.7 0" stroke="#b6de6a" stroke-width="0.7" opacity="0.6"/></g>
<g transform="translate(225 620) rotate(-22.4)"><path d="M0 -1.1 L19.2 -0.9 L19.2 0.9 L0 1.1 Z" fill="#90c23e"/><path d="M18.2 0 C21.5 -5.8 29.5 -10.6 38.2 -10.6 C45.9 -10.6 50.4 -5.8 50.4 0 C50.4 5.8 45.9 10.6 38.2 10.6 C29.5 10.6 21.5 5.8 18.2 0 Z" fill="#9ccc44" stroke="#80ac38" stroke-width="0.5"/><path d="M18.2 0 L48.4 0" stroke="#b6de6a" stroke-width="0.7" opacity="0.6"/></g>
<g transform="translate(225 620) rotate(167.3)"><path d="M0 -1.1 L2.8 -0.9 L2.8 0.9 L0 1.1 Z" fill="#90c23e"/><path d="M1.8 0 C3.9 -3.9 9.1 -7.0 14.7 -7.0 C19.6 -7.0 22.5 -3.9 22.5 0 C22.5 3.9 19.6 7.0 14.7 7.0 C9.1 7.0 3.9 3.9 1.8 0 Z" fill="#b0da58" stroke="#80ac38" stroke-width="0.5"/><path d="M1.8 0 L20.5 0" stroke="#b6de6a" stroke-width="0.7" opacity="0.6"/></g>
<g transform="translate(225 620) rotate(5.9)"><path d="M0 -1.1 L2.5 -0.9 L2.5 0.9 L0 1.1 Z" fill="#90c23e"/><path d="M1.5 0 C2.9 -3.2 6.3 -5.9 10.1 -5.9 C13.4 -5.9 15.3 -3.2 15.3 0 C15.3 3.2 13.4 5.9 10.1 5.9 C6.3 5.9 2.9 3.2 1.5 0 Z" fill="#a0d044" stroke="#80ac38" stroke-width="0.5"/><path d="M1.5 0 L13.3 0" stroke="#b6de6a" stroke-width="0.7" opacity="0.6"/></g>
<g transform="translate(225 620) rotate(126.9)"><path d="M0 -1.1 L12.6 -0.9 L12.6 0.9 L0 1.1 Z" fill="#90c23e"/><path d="M11.6 0 C14.8 -5.8 22.9 -10.6 31.6 -10.6 C39.3 -10.6 43.8 -5.8 43.8 0 C43.8 5.8 39.3 10.6 31.6 10.6 C22.9 10.6 14.8 5.8 11.6 0 Z" fill="#a2d246" stroke="#80ac38" stroke-width="0.5"/><path d="M11.6 0 L41.8 0" stroke="#b6de6a" stroke-width="0.7" opacity="0.6"/></g>
<g transform="translate(225 620) rotate(58.6)"><path d="M0 -1.1 L13.0 -0.9 L13.0 0.9 L0 1.1 Z" fill="#90c23e"/><path d="M12.0 0 C15.6 -7.7 24.8 -14.1 34.8 -14.1 C43.6 -14.1 48.8 -7.7 48.8 0 C48.8 7.7 43.6 14.1 34.8 14.1 C24.8 14.1 15.6 7.7 12.0 0 Z" fill="#aad650" stroke="#80ac38" stroke-width="0.5"/><path d="M12.0 0 L46.8 0" stroke="#b6de6a" stroke-width="0.7" opacity="0.6"/></g>
<g transform="translate(225 673.4) rotate(-160.9)"><path d="M0 -1.1 L8.5 -0.9 L8.5 0.9 L0 1.1 Z" fill="#90c23e"/><path d="M7.5 0 C10.5 -4.5 17.9 -8.2 26.0 -8.2 C33.2 -8.2 37.4 -4.5 37.4 0 C37.4 4.5 33.2 8.2 26.0 8.2 C17.9 8.2 10.5 4.5 7.5 0 Z" fill="#9ccc44" stroke="#80ac38" stroke-width="0.5"/><path d="M7.5 0 L35.4 0" stroke="#b6de6a" stroke-width="0.7" opacity="0.6"/></g>
<g transform="translate(225 673.4) rotate(10.7)"><path d="M0 -1.1 L17.7 -0.9 L17.7 0.9 L0 1.1 Z" fill="#90c23e"/><path d="M16.7 0 C20.4 -5.8 29.6 -10.6 39.5 -10.6 C48.4 -10.6 53.5 -5.8 53.5 0 C53.5 5.8 48.4 10.6 39.5 10.6 C29.6 10.6 20.4 5.8 16.7 0 Z" fill="#b0da58" stroke="#80ac38" stroke-width="0.5"/><path d="M16.7 0 L51.5 0" stroke="#b6de6a" stroke-width="0.7" opacity="0.6"/></g>
<g transform="translate(225 673.4) rotate(150.9)"><path d="M0 -1.1 L17.1 -0.9 L17.1 0.9 L0 1.1 Z" fill="#90c23e"/><path d="M16.1 0 C18.7 -5.2 25.0 -9.4 31.8 -9.4 C37.9 -9.4 41.4 -5.2 41.4 0 C41.4 5.2 37.9 9.4 31.8 9.4 C25.0 9.4 18.7 5.2 16.1 0 Z" fill="#a0d044" stroke="#80ac38" stroke-width="0.5"/><path d="M16.1 0 L39.4 0" stroke="#b6de6a" stroke-width="0.7" opacity="0.6"/></g>
<g transform="translate(225 673.4) rotate(50.4)"><path d="M0 -1.1 L2.6 -0.9 L2.6 0.9 L0 1.1 Z" fill="#90c23e"/><path d="M1.6 0 C3.9 -4.5 9.6 -8.2 15.8 -8.2 C21.3 -8.2 24.6 -4.5 24.6 0 C24.6 4.5 21.3 8.2 15.8 8.2 C9.6 8.2 3.9 4.5 1.6 0 Z" fill="#a2d246" stroke="#80ac38" stroke-width="0.5"/><path d="M1.6 0 L22.6 0" stroke="#b6de6a" stroke-width="0.7" opacity="0.6"/></g>
<g transform="translate(225 673.4) rotate(102.2)"><path d="M0 -1.1 L15.4 -0.9 L15.4 0.9 L0 1.1 Z" fill="#90c23e"/><path d="M14.4 0 C17.6 -5.2 25.7 -9.4 34.4 -9.4 C42.1 -9.4 46.6 -5.2 46.6 0 C46.6 5.2 42.1 9.4 34.4 9.4 C25.7 9.4 17.6 5.2 14.4 0 Z" fill="#aad650" stroke="#80ac38" stroke-width="0.5"/><path d="M14.4 0 L44.6 0" stroke="#b6de6a" stroke-width="0.7" opacity="0.6"/></g>
<g transform="translate(225 673.4) rotate(75.1)"><path d="M0 -1.1 L13.7 -0.9 L13.7 0.9 L0 1.1 Z" fill="#90c23e"/><path d="M12.7 0 C13.8 -2.6 16.7 -4.7 19.8 -4.7 C22.6 -4.7 24.2 -2.6 24.2 0 C24.2 2.6 22.6 4.7 19.8 4.7 C16.7 4.7 13.8 2.6 12.7 0 Z" fill="#9ccc44" stroke="#80ac38" stroke-width="0.5"/><path d="M12.7 0 L22.2 0" stroke="#b6de6a" stroke-width="0.7" opacity="0.6"/></g>
<g transform="translate(225 673.4) rotate(-116.6)"><path d="M0 -1.1 L3.5 -0.9 L3.5 0.9 L0 1.1 Z" fill="#90c23e"/><path d="M2.5 0 C3.6 -3.2 6.5 -5.9 9.6 -5.9 C12.3 -5.9 14.0 -3.2 14.0 0 C14.0 3.2 12.3 5.9 9.6 5.9 C6.5 5.9 3.6 3.2 2.5 0 Z" fill="#b0da58" stroke="#80ac38" stroke-width="0.5"/><path d="M2.5 0 L12.0 0" stroke="#b6de6a" stroke-width="0.7" opacity="0.6"/></g>
</g></g>
<rect x="161.4" y="558.4" width="21.4" height="17.2" fill="#fff"/>
<rect x="264.3" y="557.8" width="22.3" height="17.8" fill="#fff"/>
<rect x="161.3" y="705" width="22" height="17.2" fill="#fff"/>
<rect x="264.2" y="706" width="22" height="16.2" fill="#fff"/>
<path d="M406 41 V354.5 H769.6" fill="none" stroke="#2a2a2a" stroke-width="2"/>
<line x1="398.8" y1="340.5" x2="406" y2="340.5" stroke="#2a2a2a" stroke-width="1.8"/>
<text transform="translate(386.70 351.35) scale(1.0960 1.1500)" font-size="28" text-anchor="end">0</text>
<line x1="398.8" y1="285.8" x2="406" y2="285.8" stroke="#2a2a2a" stroke-width="1.8"/>
<text transform="translate(386.70 296.30) scale(1.0960 1.1500)" font-size="28" text-anchor="end">10</text>
<line x1="398.8" y1="231.1" x2="406" y2="231.1" stroke="#2a2a2a" stroke-width="1.8"/>
<text transform="translate(386.70 241.25) scale(1.0960 1.1500)" font-size="28" text-anchor="end">20</text>
<line x1="398.8" y1="176.3" x2="406" y2="176.3" stroke="#2a2a2a" stroke-width="1.8"/>
<text transform="translate(386.70 186.20) scale(1.0960 1.1500)" font-size="28" text-anchor="end">30</text>
<line x1="398.8" y1="121.6" x2="406" y2="121.6" stroke="#2a2a2a" stroke-width="1.8"/>
<text transform="translate(386.70 131.15) scale(1.0960 1.1500)" font-size="28" text-anchor="end">40</text>
<line x1="398.8" y1="66.9" x2="406" y2="66.9" stroke="#2a2a2a" stroke-width="1.8"/>
<text transform="translate(386.70 76.10) scale(1.0960 1.1500)" font-size="28" text-anchor="end">50</text>
<line x1="458" y1="354.5" x2="458" y2="360.5" stroke="#2a2a2a" stroke-width="1.8"/>
<line x1="544.2" y1="354.5" x2="544.2" y2="360.5" stroke="#2a2a2a" stroke-width="1.8"/>
<line x1="631" y1="354.5" x2="631" y2="360.5" stroke="#2a2a2a" stroke-width="1.8"/>
<line x1="717.6" y1="354.5" x2="717.6" y2="360.5" stroke="#2a2a2a" stroke-width="1.8"/>
<text transform="translate(423.26 383.80) scale(1.0352 1.0526)" font-size="29.5" font-style="italic">astD</text>
<text transform="translate(499.89 383.80) scale(1.0098 1.0400)" font-size="29.5">control</text>
<text transform="translate(597.01 383.80) scale(1.0352 1.0526)" font-size="29.5" font-style="italic">astD</text>
<text transform="translate(669.59 383.80) scale(1.0098 1.0400)" font-size="29.5">control</text>
<text transform="translate(343.36 304.20) rotate(-90) scale(0.9972 1.0074)" font-size="30">fresh weight (mg)</text>
<line x1="457.8" y1="64.5" x2="457.8" y2="237" stroke="#b7bade" stroke-width="1.8"/>
<path d="M425.2 124.8 L490.2 124.8 L490.2 134.8 L488.0 146.3 L490.2 157.8 L490.2 168.6 L425.2 168.6 L425.2 157.8 L427.4 146.3 L425.2 134.8 Z" fill="#2e3b9c" stroke="#a6ade8" stroke-width="1.2"/>
<line x1="427.4" y1="146.3" x2="488.0" y2="146.3" stroke="#b8bdf0" stroke-width="2.2"/>
<line x1="544" y1="67.6" x2="544" y2="227.3" stroke="#b7bade" stroke-width="1.8"/>
<path d="M511.6 112.9 L576.2 112.9 L576.2 115.2 L574.0 155.2 L576.2 181.3 L576.2 181.3 L511.6 181.3 L511.6 181.3 L513.8 155.2 L511.6 115.2 Z" fill="#2e3b9c" stroke="#a6ade8" stroke-width="1.2"/>
<line x1="513.8000000000001" y1="155.2" x2="574.0" y2="155.2" stroke="#b8bdf0" stroke-width="2.2"/>
<line x1="630.8" y1="84.3" x2="630.8" y2="275.5" stroke="#b7bade" stroke-width="1.8"/>
<path d="M599.0 165.2 L663.0 165.2 L663.0 180.5 L661.2 205.5 L663.0 229.2 L663.0 229.2 L599.0 229.2 L599.0 229.2 L600.8 205.5 L599.0 180.5 Z" fill="#ff0000" stroke="#a6ade8" stroke-width="1.2"/>
<line x1="600.8" y1="205.5" x2="661.2" y2="205.5" stroke="#b8bdf0" stroke-width="2.2"/>
<rect x="684.5" y="330.2" width="66.5" height="4" fill="#aab3ea"/>
<ellipse cx="471.5" cy="55.8" rx="3.3" ry="2.5" fill="#000"/>
<ellipse cx="473.2" cy="62.9" rx="3.3" ry="2.5" fill="#000"/>
<ellipse cx="458.5" cy="63.4" rx="3.3" ry="2.5" fill="#000"/>
<ellipse cx="445.5" cy="89.6" rx="3.3" ry="2.5" fill="#000"/>
<ellipse cx="448" cy="93.5" rx="3.3" ry="2.5" fill="#000"/>
<ellipse cx="468.4" cy="95.2" rx="3.3" ry="2.5" fill="#000"/>
<ellipse cx="466.4" cy="101.7" rx="3.3" ry="2.5" fill="#000"/>
<ellipse cx="461.3" cy="114.1" rx="3.3" ry="2.5" fill="#000"/>
<ellipse cx="460.1" cy="124.1" rx="3.3" ry="2.5" fill="#000"/>
<ellipse cx="449.6" cy="133.4" rx="3.3" ry="2.5" fill="#000"/>
<ellipse cx="454.6" cy="133.9" rx="3.3" ry="2.5" fill="#000"/>
<ellipse cx="472" cy="133.6" rx="3.3" ry="2.5" fill="#000"/>
<ellipse cx="461.8" cy="136.7" rx="3.3" ry="2.5" fill="#000"/>
<ellipse cx="470.4" cy="138" rx="3.3" ry="2.5" fill="#000"/>
<ellipse cx="440.9" cy="142.1" rx="3.3" ry="2.5" fill="#000"/>
<ellipse cx="444.5" cy="141.1" rx="3.3" ry="2.5" fill="#000"/>
<ellipse cx="457.7" cy="146.5" rx="3.3" ry="2.5" fill="#000"/>
<ellipse cx="447.3" cy="149.2" rx="3.3" ry="2.5" fill="#000"/>
<ellipse cx="446.3" cy="156.4" rx="3.3" ry="2.5" fill="#000"/>
<ellipse cx="461.3" cy="154.5" rx="3.3" ry="2.5" fill="#000"/>
<ellipse cx="473" cy="154.8" rx="3.3" ry="2.5" fill="#000"/>
<ellipse cx="465.4" cy="163" rx="3.3" ry="2.5" fill="#000"/>
<ellipse cx="461.8" cy="168.1" rx="3.3" ry="2.5" fill="#000"/>
<ellipse cx="473" cy="169.3" rx="3.3" ry="2.5" fill="#000"/>
<ellipse cx="464.3" cy="172" rx="3.3" ry="2.5" fill="#000"/>
<ellipse cx="460" cy="177.8" rx="3.3" ry="2.5" fill="#000"/>
<ellipse cx="447.5" cy="182.4" rx="3.3" ry="2.5" fill="#000"/>
<ellipse cx="465.9" cy="182.4" rx="3.3" ry="2.5" fill="#000"/>
<ellipse cx="472.8" cy="183.4" rx="3.3" ry="2.5" fill="#000"/>
<ellipse cx="454.1" cy="186.6" rx="3.3" ry="2.5" fill="#000"/>
<ellipse cx="457.5" cy="221.3" rx="3.3" ry="2.5" fill="#000"/>
<ellipse cx="473.7" cy="237.1" rx="3.3" ry="2.5" fill="#000"/>
<ellipse cx="529.2" cy="67.6" rx="3.3" ry="2.5" fill="#000"/>
<ellipse cx="561" cy="89" rx="3.3" ry="2.5" fill="#000"/>
<ellipse cx="547" cy="101.4" rx="3.3" ry="2.5" fill="#000"/>
<ellipse cx="561.3" cy="104.3" rx="3.3" ry="2.5" fill="#000"/>
<ellipse cx="528.7" cy="110.4" rx="3.3" ry="2.5" fill="#000"/>
<ellipse cx="556.2" cy="112.9" rx="3.3" ry="2.5" fill="#000"/>
<ellipse cx="530.2" cy="116.6" rx="3.3" ry="2.5" fill="#000"/>
<ellipse cx="540.7" cy="117.8" rx="3.3" ry="2.5" fill="#000"/>
<ellipse cx="556" cy="117.5" rx="3.3" ry="2.5" fill="#000"/>
<ellipse cx="547.6" cy="138.7" rx="3.3" ry="2.5" fill="#000"/>
<ellipse cx="545.6" cy="155.1" rx="3.3" ry="2.5" fill="#000"/>
<ellipse cx="536.9" cy="167.5" rx="3.3" ry="2.5" fill="#000"/>
<ellipse cx="531.5" cy="170.4" rx="3.3" ry="2.5" fill="#000"/>
<ellipse cx="530" cy="179" rx="3.3" ry="2.5" fill="#000"/>
<ellipse cx="528.7" cy="182.4" rx="3.3" ry="2.5" fill="#000"/>
<ellipse cx="527.2" cy="187" rx="3.3" ry="2.5" fill="#000"/>
<ellipse cx="529.5" cy="193.3" rx="3.3" ry="2.5" fill="#000"/>
<ellipse cx="539.6" cy="203.1" rx="3.3" ry="2.5" fill="#000"/>
<ellipse cx="551.8" cy="209.1" rx="3.3" ry="2.5" fill="#000"/>
<ellipse cx="543.3" cy="227.1" rx="3.3" ry="2.5" fill="#000"/>
<ellipse cx="619.6" cy="84" rx="3.3" ry="2.5" fill="#000"/>
<ellipse cx="614.7" cy="101" rx="3.3" ry="2.5" fill="#000"/>
<ellipse cx="617.5" cy="100" rx="3.3" ry="2.5" fill="#000"/>
<ellipse cx="631" cy="108.8" rx="3.3" ry="2.5" fill="#000"/>
<ellipse cx="618.1" cy="130.5" rx="3.3" ry="2.5" fill="#000"/>
<ellipse cx="623.2" cy="136.2" rx="3.3" ry="2.5" fill="#000"/>
<ellipse cx="637" cy="139.4" rx="3.3" ry="2.5" fill="#000"/>
<ellipse cx="631.5" cy="148.2" rx="3.3" ry="2.5" fill="#000"/>
<ellipse cx="641.6" cy="160.3" rx="3.3" ry="2.5" fill="#000"/>
<ellipse cx="625.8" cy="164.9" rx="3.3" ry="2.5" fill="#000"/>
<ellipse cx="634.7" cy="166" rx="3.3" ry="2.5" fill="#000"/>
<ellipse cx="635.9" cy="168.3" rx="3.3" ry="2.5" fill="#000"/>
<ellipse cx="638.7" cy="170.1" rx="3.3" ry="2.5" fill="#000"/>
<ellipse cx="620" cy="172.7" rx="3.3" ry="2.5" fill="#000"/>
<ellipse cx="628.1" cy="182.1" rx="3.3" ry="2.5" fill="#000"/>
<ellipse cx="627.8" cy="191.8" rx="3.3" ry="2.5" fill="#000"/>
<ellipse cx="640.4" cy="194.7" rx="3.3" ry="2.5" fill="#000"/>
<ellipse cx="638.7" cy="197.6" rx="3.3" ry="2.5" fill="#000"/>
<ellipse cx="633" cy="205.4" rx="3.3" ry="2.5" fill="#000"/>
<ellipse cx="642.7" cy="208.1" rx="3.3" ry="2.5" fill="#000"/>
<ellipse cx="629.6" cy="210.2" rx="3.3" ry="2.5" fill="#000"/>
<ellipse cx="618.7" cy="213.6" rx="3.3" ry="2.5" fill="#000"/>
<ellipse cx="621.5" cy="215.6" rx="3.3" ry="2.5" fill="#000"/>
<ellipse cx="631.5" cy="214.8" rx="3.3" ry="2.5" fill="#000"/>
<ellipse cx="643.3" cy="218.2" rx="3.3" ry="2.5" fill="#000"/>
<ellipse cx="647.9" cy="219.7" rx="3.3" ry="2.5" fill="#000"/>
<ellipse cx="624.4" cy="224.5" rx="3.3" ry="2.5" fill="#000"/>
<ellipse cx="620" cy="229.9" rx="3.3" ry="2.5" fill="#000"/>
<ellipse cx="647" cy="231.1" rx="3.3" ry="2.5" fill="#000"/>
<ellipse cx="632.4" cy="234.3" rx="3.3" ry="2.5" fill="#000"/>
<ellipse cx="622.7" cy="236.6" rx="3.3" ry="2.5" fill="#000"/>
<ellipse cx="645" cy="239.5" rx="3.3" ry="2.5" fill="#000"/>
<ellipse cx="614.1" cy="245.8" rx="3.3" ry="2.5" fill="#000"/>
<ellipse cx="616.4" cy="249.6" rx="3.3" ry="2.5" fill="#000"/>
<ellipse cx="618.1" cy="252.7" rx="3.3" ry="2.5" fill="#000"/>
<ellipse cx="614.3" cy="267" rx="3.3" ry="2.5" fill="#000"/>
<ellipse cx="643.7" cy="275.4" rx="3.3" ry="2.5" fill="#000"/>
<ellipse cx="700.8" cy="325.6" rx="3.3" ry="2.5" fill="#000"/>
<ellipse cx="726.7" cy="322.5" rx="3.3" ry="2.5" fill="#000"/>
<ellipse cx="701.4" cy="332.6" rx="3.3" ry="2.5" fill="#000"/>
<ellipse cx="705.9" cy="329.3" rx="3.3" ry="2.5" fill="#000"/>
<ellipse cx="709.8" cy="328.7" rx="3.3" ry="2.5" fill="#000"/>
<ellipse cx="719.4" cy="328.7" rx="3.3" ry="2.5" fill="#000"/>
<ellipse cx="716.6" cy="330.4" rx="3.3" ry="2.5" fill="#000"/>
<ellipse cx="713.7" cy="332.1" rx="3.3" ry="2.5" fill="#000"/>
<ellipse cx="708.1" cy="336" rx="3.3" ry="2.5" fill="#000"/>
<ellipse cx="716.6" cy="334.9" rx="3.3" ry="2.5" fill="#000"/>
<ellipse cx="701.4" cy="339.9" rx="3.3" ry="2.5" fill="#000"/>
<ellipse cx="726.1" cy="332.1" rx="3.3" ry="2.5" fill="#000"/>
<ellipse cx="729.5" cy="333.2" rx="3.3" ry="2.5" fill="#000"/>
<ellipse cx="735.1" cy="333.2" rx="3.3" ry="2.5" fill="#000"/>
<ellipse cx="732.9" cy="333.8" rx="3.3" ry="2.5" fill="#000"/>
<ellipse cx="704.2" cy="332.6" rx="3.3" ry="2.5" fill="#000"/>
<ellipse cx="711.5" cy="333.8" rx="3.3" ry="2.5" fill="#000"/>
<ellipse cx="707" cy="331" rx="3.3" ry="2.5" fill="#000"/>
<ellipse cx="712" cy="329.5" rx="3.3" ry="2.5" fill="#000"/>
<ellipse cx="718" cy="332" rx="3.3" ry="2.5" fill="#000"/>
<ellipse cx="721" cy="330" rx="3.3" ry="2.5" fill="#000"/>
<ellipse cx="710" cy="334.5" rx="3.3" ry="2.5" fill="#000"/>
<ellipse cx="703" cy="335" rx="3.3" ry="2.5" fill="#000"/>
<ellipse cx="714" cy="336" rx="3.3" ry="2.5" fill="#000"/>
<ellipse cx="723" cy="333" rx="3.3" ry="2.5" fill="#000"/>
<ellipse cx="706.5" cy="327" rx="3.3" ry="2.5" fill="#000"/>
<ellipse cx="719" cy="335" rx="3.3" ry="2.5" fill="#000"/>
<ellipse cx="725" cy="334.5" rx="3.3" ry="2.5" fill="#000"/>
<ellipse cx="716" cy="328" rx="3.3" ry="2.5" fill="#000"/>
<rect x="430" y="295" width="21" height="11.4" fill="#2e3b9c"/>
<rect x="430" y="323.5" width="21" height="11.4" fill="#ff0000"/>
<text transform="translate(480.69 307.30) scale(1.0075 0.9941)" font-size="29.5">no treatment</text>
<text transform="translate(480.90 335.70) scale(0.9179 0.9222)" font-size="27" font-weight="bold">AA</text>
<text transform="translate(526.49 335.70) scale(1.0073 0.9353)" font-size="29.5">treatment</text>
<path d="M406 389.5 V709 H768.5" fill="none" stroke="#2a2a2a" stroke-width="2"/>
<line x1="394.5" y1="698.4" x2="406" y2="698.4" stroke="#2a2a2a" stroke-width="1.8"/>
<text transform="translate(385.59 704.50) scale(1.0923 1.0556)" font-size="28" text-anchor="end">0</text>
<line x1="394.5" y1="651.2" x2="406" y2="651.2" stroke="#2a2a2a" stroke-width="1.8"/>
<text transform="translate(385.59 658.09) scale(1.0923 1.0556)" font-size="28" text-anchor="end">5</text>
<line x1="394.5" y1="604.1" x2="406" y2="604.1" stroke="#2a2a2a" stroke-width="1.8"/>
<text transform="translate(385.59 611.67) scale(1.0923 1.0556)" font-size="28" text-anchor="end">10</text>
<line x1="394.5" y1="557.0" x2="406" y2="557.0" stroke="#2a2a2a" stroke-width="1.8"/>
<text transform="translate(385.59 565.26) scale(1.0923 1.0556)" font-size="28" text-anchor="end">15</text>
<line x1="394.5" y1="509.8" x2="406" y2="509.8" stroke="#2a2a2a" stroke-width="1.8"/>
<text transform="translate(385.59 518.84) scale(1.0923 1.0556)" font-size="28" text-anchor="end">20</text>
<line x1="394.5" y1="462.6" x2="406" y2="462.6" stroke="#2a2a2a" stroke-width="1.8"/>
<text transform="translate(385.59 472.43) scale(1.0923 1.0556)" font-size="28" text-anchor="end">25</text>
<line x1="394.5" y1="415.5" x2="406" y2="415.5" stroke="#2a2a2a" stroke-width="1.8"/>
<text transform="translate(385.59 426.01) scale(1.0923 1.0556)" font-size="28" text-anchor="end">30</text>
<line x1="417.8" y1="709" x2="417.8" y2="720" stroke="#2a2a2a" stroke-width="1.8"/>
<text transform="translate(417.95 745.00) scale(1.0500 1.1278)" font-size="28" text-anchor="middle">22</text>
<line x1="473.9" y1="709" x2="473.9" y2="720" stroke="#2a2a2a" stroke-width="1.8"/>
<text transform="translate(474.33 745.00) scale(1.0500 1.1278)" font-size="28" text-anchor="middle">24</text>
<line x1="530.1" y1="709" x2="530.1" y2="720" stroke="#2a2a2a" stroke-width="1.8"/>
<text transform="translate(530.71 745.00) scale(1.0500 1.1278)" font-size="28" text-anchor="middle">26</text>
<line x1="586.2" y1="709" x2="586.2" y2="720" stroke="#2a2a2a" stroke-width="1.8"/>
<text transform="translate(587.09 745.00) scale(1.0500 1.1278)" font-size="28" text-anchor="middle">28</text>
<line x1="642.4" y1="709" x2="642.4" y2="720" stroke="#2a2a2a" stroke-width="1.8"/>
<text transform="translate(643.47 745.00) scale(1.0500 1.1278)" font-size="28" text-anchor="middle">30</text>
<line x1="698.5" y1="709" x2="698.5" y2="720" stroke="#2a2a2a" stroke-width="1.8"/>
<text transform="translate(699.85 745.00) scale(1.0500 1.1278)" font-size="28" text-anchor="middle">32</text>
<line x1="754.6" y1="709" x2="754.6" y2="720" stroke="#2a2a2a" stroke-width="1.8"/>
<text transform="translate(756.23 745.00) scale(1.0500 1.1278)" font-size="28" text-anchor="middle">34</text>
<text transform="translate(489.78 767.46) scale(1.0188 1.1231)" font-size="29.5">growth stage (d)</text>
<text transform="translate(343.42 629.73) rotate(-90) scale(1.0314 0.9962)" font-size="30">height (cm)</text>
<line x1="428.3" y1="696.9" x2="463.4" y2="698.0" stroke="#ff1a1a" stroke-width="2.1"/>
<line x1="484.4" y1="698.4" x2="519.6" y2="698.4" stroke="#ff1a1a" stroke-width="2.1"/>
<line x1="540.6" y1="698.2" x2="575.7" y2="697.6" stroke="#ff1a1a" stroke-width="2.1"/>
<line x1="596.7" y1="697.0" x2="631.9" y2="695.5" stroke="#ff1a1a" stroke-width="2.1"/>
<line x1="652.8" y1="694.4" x2="688.0" y2="692.0" stroke="#ff1a1a" stroke-width="2.1"/>
<line x1="709.0" y1="690.9" x2="744.1" y2="689.4" stroke="#ff1a1a" stroke-width="2.1"/>
<line x1="428.3" y1="695.8" x2="463.5" y2="693.4" stroke="#ff1a1a" stroke-width="2.1"/>
<line x1="484.2" y1="690.4" x2="519.8" y2="682.3" stroke="#ff1a1a" stroke-width="2.1"/>
<line x1="538.8" y1="674.1" x2="577.5" y2="647.7" stroke="#ff1a1a" stroke-width="2.1"/>
<line x1="594.3" y1="635.1" x2="634.3" y2="601.4" stroke="#ff1a1a" stroke-width="2.1"/>
<line x1="650.0" y1="587.5" x2="690.9" y2="549.1" stroke="#ff1a1a" stroke-width="2.1"/>
<line x1="706.8" y1="535.4" x2="746.3" y2="504.9" stroke="#ff1a1a" stroke-width="2.1"/>
<line x1="428.2" y1="695.3" x2="463.5" y2="691.1" stroke="#2e3c98" stroke-width="2.1"/>
<line x1="483.8" y1="686.4" x2="520.2" y2="673.6" stroke="#2e3c98" stroke-width="2.1"/>
<line x1="539.1" y1="664.7" x2="577.2" y2="641.6" stroke="#2e3c98" stroke-width="2.1"/>
<line x1="594.8" y1="630.1" x2="633.8" y2="602.6" stroke="#2e3c98" stroke-width="2.1"/>
<line x1="650.7" y1="590.1" x2="690.2" y2="559.6" stroke="#2e3c98" stroke-width="2.1"/>
<line x1="707.1" y1="547.1" x2="746.1" y2="519.6" stroke="#2e3c98" stroke-width="2.1"/>
<line x1="428.2" y1="695.3" x2="463.5" y2="691.1" stroke="#2e3c98" stroke-width="2.1"/>
<line x1="483.8" y1="686.4" x2="520.2" y2="673.6" stroke="#2e3c98" stroke-width="2.1"/>
<line x1="537.4" y1="662.6" x2="578.9" y2="619.7" stroke="#2e3c98" stroke-width="2.1"/>
<line x1="593.8" y1="604.8" x2="634.8" y2="565.2" stroke="#2e3c98" stroke-width="2.1"/>
<line x1="650.5" y1="551.3" x2="690.4" y2="518.8" stroke="#2e3c98" stroke-width="2.1"/>
<line x1="706.8" y1="505.7" x2="746.3" y2="475.2" stroke="#2e3c98" stroke-width="2.1"/>
<rect x="412.5" y="691.2" width="10.6" height="10.6" fill="#ff1a1a"/>
<rect x="468.6" y="693.1" width="10.6" height="10.6" fill="#ff1a1a"/>
<rect x="524.8" y="693.1" width="10.6" height="10.6" fill="#ff1a1a"/>
<rect x="580.9" y="692.2" width="10.6" height="10.6" fill="#ff1a1a"/>
<rect x="637.1" y="689.8" width="10.6" height="10.6" fill="#ff1a1a"/>
<rect x="693.2" y="686.0" width="10.6" height="10.6" fill="#ff1a1a"/>
<rect x="749.3" y="683.7" width="10.6" height="10.6" fill="#ff1a1a"/>
<path d="M413.0 696.0 H422.6 M417.8 696.0 V697.0 M413.0 697.0 H422.6" stroke="#858585" stroke-width="1.9" fill="none"/>
<path d="M581.4 696.0 H591.0 M586.2 696.0 V698.9 M581.4 698.9 H591.0" stroke="#858585" stroke-width="1.9" fill="none"/>
<path d="M637.6 693.2 H647.2 M642.4 693.2 V697.0 M637.6 697.0 H647.2" stroke="#858585" stroke-width="1.9" fill="none"/>
<path d="M693.7 689.0 H703.3 M698.5 689.0 V693.7 M693.7 693.7 H703.3" stroke="#858585" stroke-width="1.9" fill="none"/>
<path d="M749.8 687.1 H759.4 M754.6 687.1 V690.9 M749.8 690.9 H759.4" stroke="#858585" stroke-width="1.9" fill="none"/>
<circle cx="417.8" cy="696.5" r="4.6" fill="#ff1a1a"/>
<circle cx="473.9" cy="692.7" r="4.6" fill="#ff1a1a"/>
<circle cx="530.1" cy="680.0" r="4.6" fill="#ff1a1a"/>
<circle cx="586.2" cy="641.8" r="4.6" fill="#ff1a1a"/>
<circle cx="642.4" cy="594.7" r="4.6" fill="#ff1a1a"/>
<circle cx="698.5" cy="541.9" r="4.6" fill="#ff1a1a"/>
<circle cx="754.6" cy="498.5" r="4.6" fill="#ff1a1a"/>
<path d="M413.0 695.6 H422.6 M417.8 695.6 V697.5 M413.0 697.5 H422.6" stroke="#858585" stroke-width="1.9" fill="none"/>
<path d="M469.1 691.8 H478.7 M473.9 691.8 V693.7 M469.1 693.7 H478.7" stroke="#858585" stroke-width="1.9" fill="none"/>
<path d="M525.3 676.2 H534.9 M530.1 676.2 V683.8 M525.3 683.8 H534.9" stroke="#858585" stroke-width="1.9" fill="none"/>
<path d="M581.4 633.3 H591.0 M586.2 633.3 V650.3 M581.4 650.3 H591.0" stroke="#858585" stroke-width="1.9" fill="none"/>
<path d="M637.6 583.4 H647.2 M642.4 583.4 V606.0 M637.6 606.0 H647.2" stroke="#858585" stroke-width="1.9" fill="none"/>
<path d="M693.7 534.3 H703.3 M698.5 534.3 V549.4 M693.7 549.4 H703.3" stroke="#858585" stroke-width="1.9" fill="none"/>
<path d="M749.8 491.9 H759.4 M754.6 491.9 V505.1 M749.8 505.1 H759.4" stroke="#858585" stroke-width="1.9" fill="none"/>
<path d="M413.0 694.6 H422.6 M417.8 694.6 V698.4 M413.0 698.4 H422.6" stroke="#858585" stroke-width="1.9" fill="none"/>
<path d="M469.1 688.0 H478.7 M473.9 688.0 V691.8 M469.1 691.8 H478.7" stroke="#858585" stroke-width="1.9" fill="none"/>
<path d="M525.3 665.4 H534.9 M530.1 665.4 V674.8 M525.3 674.8 H534.9" stroke="#858585" stroke-width="1.9" fill="none"/>
<path d="M581.4 624.8 H591.0 M586.2 624.8 V647.5 M581.4 647.5 H591.0" stroke="#858585" stroke-width="1.9" fill="none"/>
<path d="M637.6 582.4 H647.2 M642.4 582.4 V610.7 M637.6 610.7 H647.2" stroke="#858585" stroke-width="1.9" fill="none"/>
<path d="M693.7 537.1 H703.3 M698.5 537.1 V569.2 M693.7 569.2 H703.3" stroke="#858585" stroke-width="1.9" fill="none"/>
<path d="M749.8 499.4 H759.4 M754.6 499.4 V527.7 M749.8 527.7 H759.4" stroke="#858585" stroke-width="1.9" fill="none"/>
<path d="M413.0 694.6 H422.6 M417.8 694.6 V698.4 M413.0 698.4 H422.6" stroke="#858585" stroke-width="1.9" fill="none"/>
<path d="M469.1 688.0 H478.7 M473.9 688.0 V691.8 M469.1 691.8 H478.7" stroke="#858585" stroke-width="1.9" fill="none"/>
<path d="M525.3 665.4 H534.9 M530.1 665.4 V674.8 M525.3 674.8 H534.9" stroke="#858585" stroke-width="1.9" fill="none"/>
<path d="M581.4 601.7 H591.0 M586.2 601.7 V622.5 M581.4 622.5 H591.0" stroke="#858585" stroke-width="1.9" fill="none"/>
<path d="M637.6 545.6 H647.2 M642.4 545.6 V570.2 M637.6 570.2 H647.2" stroke="#858585" stroke-width="1.9" fill="none"/>
<path d="M693.7 500.8 H703.3 M698.5 500.8 V523.5 M693.7 523.5 H703.3" stroke="#858585" stroke-width="1.9" fill="none"/>
<path d="M749.8 457.5 H759.4 M754.6 457.5 V480.1 M749.8 480.1 H759.4" stroke="#858585" stroke-width="1.9" fill="none"/>
<circle cx="417.8" cy="696.5" r="4.9" fill="none" stroke="#2e3c98" stroke-width="2.3"/>
<circle cx="473.9" cy="689.9" r="4.9" fill="none" stroke="#2e3c98" stroke-width="2.3"/>
<circle cx="530.1" cy="670.1" r="4.9" fill="none" stroke="#2e3c98" stroke-width="2.3"/>
<circle cx="586.2" cy="636.2" r="4.9" fill="none" stroke="#2e3c98" stroke-width="2.3"/>
<circle cx="642.4" cy="596.6" r="4.9" fill="none" stroke="#2e3c98" stroke-width="2.3"/>
<circle cx="698.5" cy="553.2" r="4.9" fill="none" stroke="#2e3c98" stroke-width="2.3"/>
<circle cx="754.6" cy="513.6" r="4.9" fill="none" stroke="#2e3c98" stroke-width="2.3"/>
<rect x="413.9" y="692.6" width="7.8" height="7.8" fill="none" stroke="#2e3c98" stroke-width="1.6"/>
<rect x="470.0" y="686.0" width="7.8" height="7.8" fill="none" stroke="#2e3c98" stroke-width="1.6"/>
<rect x="526.2" y="666.2" width="7.8" height="7.8" fill="none" stroke="#2e3c98" stroke-width="1.6"/>
<rect x="582.3" y="608.2" width="7.8" height="7.8" fill="none" stroke="#2e3c98" stroke-width="1.6"/>
<rect x="638.5" y="554.0" width="7.8" height="7.8" fill="none" stroke="#2e3c98" stroke-width="1.6"/>
<rect x="694.6" y="508.3" width="7.8" height="7.8" fill="none" stroke="#2e3c98" stroke-width="1.6"/>
<rect x="750.7" y="464.9" width="7.8" height="7.8" fill="none" stroke="#2e3c98" stroke-width="1.6"/>
<text transform="translate(764.77 474.00) scale(1.0308 1.1556)" font-size="27">ii</text>
<text transform="translate(764.77 503.30) scale(1.0333 1.1500)" font-size="27">iii</text>
<text transform="translate(764.80 530.70) scale(1.0000 1.1333)" font-size="27">iv</text>
<text transform="translate(764.45 696.70) scale(0.8500 1.1500)" font-size="27">i</text>
<text transform="translate(11.01 36.50) scale(0.8882 1.0647)" font-size="36" font-weight="bold">a</text>
<text transform="translate(305.00 36.00) scale(0.9053 0.9680)" font-size="36" font-weight="bold">b</text>
<text transform="translate(10.30 413.20) scale(1.0000 1.0471)" font-size="36" font-weight="bold">c</text>
<text transform="translate(302.75 413.30) scale(0.9526 1.0040)" font-size="36" font-weight="bold">d</text>
<text transform="translate(92.83 58.10) scale(0.9912 1.0160)" font-size="29.5">100 µM</text>
<text transform="translate(196.30 58.30) scale(0.9690 1.0579)" font-size="29.5" font-weight="bold">AA</text>
<text transform="translate(43.60 171.95) rotate(-90) scale(1.0506 0.9950)" font-size="29.5">control</text>
<text transform="translate(43.80 304.63) rotate(-90) scale(1.0315 1.0000)" font-size="29.5" font-style="italic">astD</text>
<text transform="translate(25.80 435.20) scale(1.0100 1.0500)" font-size="28" font-weight="bold">AA</text>
<text transform="translate(131.78 436.78) scale(1.1214 1.1615)" font-size="28">+</text>
<text transform="translate(60.30 549.42) rotate(-90) scale(1.0160 1.0200)" font-size="29.5">control</text>
<text transform="translate(60.70 681.22) rotate(-90) scale(1.0185 1.0895)" font-size="29.5" font-style="italic">astD</text>
<text transform="translate(166.90 574.70) scale(1.1000 1.0786)" font-size="22">i</text>
<text transform="translate(270.74 574.70) scale(0.9600 1.0786)" font-size="22">ii</text>
<text transform="translate(163.61 721.70) scale(0.9882 1.0643)" font-size="22">iii</text>
<text transform="translate(267.01 721.40) scale(0.9875 1.0429)" font-size="22">iv</text>
<text transform="translate(214.54 439.35) scale(1.1571 1.4500)" font-size="28" font-weight="bold">-</text>
</g>
</svg>
</body></html>
